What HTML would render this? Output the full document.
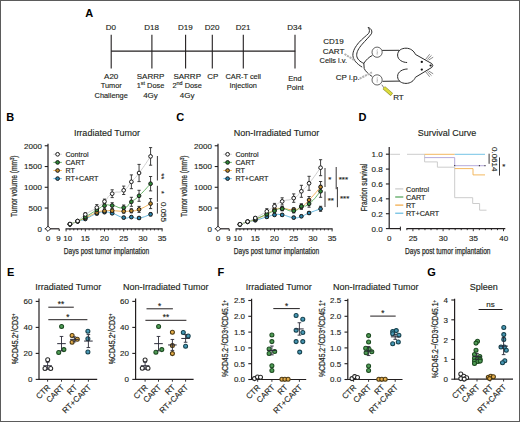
<!DOCTYPE html>
<html><head><meta charset="utf-8"><style>
html,body{margin:0;padding:0;background:#fff;}
#c{position:relative;width:520px;height:422px;overflow:hidden;background:#fff;}
svg{position:absolute;left:0;top:0;}
svg text{font-family:"Liberation Sans", sans-serif;stroke:#231f20;stroke-width:0.14px;}
svg text.c{stroke:#333;stroke-width:0.25px;}
svg text[font-weight=bold]{stroke:none;}
</style></head><body><div id="c">
<svg width="520" height="422" viewBox="0 0 520 422">
<rect x="0.5" y="0.5" width="519" height="421" fill="#fff" stroke="#5b5b5b" stroke-width="1"/>
<text x="85.30" y="16.50" font-size="11" text-anchor="start" font-weight="bold" fill="#000" >A</text>
<line x1="111.20" y1="51.10" x2="295.30" y2="51.10" stroke="#231f20" stroke-width="1.1" />
<line x1="111.20" y1="34.80" x2="111.20" y2="68.60" stroke="#231f20" stroke-width="1.1" />
<text x="110.90" y="29.60" font-size="8.0" text-anchor="middle" font-weight="normal" fill="#231f20" >D0</text>
<line x1="151.90" y1="34.80" x2="151.90" y2="68.60" stroke="#231f20" stroke-width="1.1" />
<text x="151.60" y="29.60" font-size="8.0" text-anchor="middle" font-weight="normal" fill="#231f20" >D18</text>
<line x1="185.60" y1="34.80" x2="185.60" y2="68.60" stroke="#231f20" stroke-width="1.1" />
<text x="185.30" y="29.60" font-size="8.0" text-anchor="middle" font-weight="normal" fill="#231f20" >D19</text>
<line x1="212.30" y1="34.80" x2="212.30" y2="68.60" stroke="#231f20" stroke-width="1.1" />
<text x="212.00" y="29.60" font-size="8.0" text-anchor="middle" font-weight="normal" fill="#231f20" >D20</text>
<line x1="243.30" y1="34.80" x2="243.30" y2="68.60" stroke="#231f20" stroke-width="1.1" />
<text x="243.00" y="29.60" font-size="8.0" text-anchor="middle" font-weight="normal" fill="#231f20" >D21</text>
<line x1="295.00" y1="34.80" x2="295.00" y2="68.60" stroke="#231f20" stroke-width="1.1" />
<text x="294.70" y="29.60" font-size="8.0" text-anchor="middle" font-weight="normal" fill="#231f20" >D34</text>
<text x="111.20" y="78.70" font-size="8.0" text-anchor="middle" font-weight="normal" fill="#231f20" >A20</text>
<text x="111.20" y="88.20" font-size="7.4" text-anchor="middle" font-weight="normal" fill="#231f20" >Tumor</text>
<text x="111.20" y="97.70" font-size="7.4" text-anchor="middle" font-weight="normal" fill="#231f20" >Challenge</text>
<text x="150.50" y="78.70" font-size="8.0" text-anchor="middle" font-weight="normal" fill="#231f20" >SARRP</text>
<text x="150.50" y="88.20" font-size="7.4" text-anchor="middle" font-weight="normal" fill="#231f20" >1<tspan font-size="5.4" dy="-2.9">st</tspan><tspan dy="2.9"> Dose</tspan></text>
<text x="150.50" y="97.70" font-size="8.0" text-anchor="middle" font-weight="normal" fill="#231f20" >4Gy</text>
<text x="187.20" y="78.70" font-size="8.0" text-anchor="middle" font-weight="normal" fill="#231f20" >SARRP</text>
<text x="187.20" y="88.20" font-size="7.4" text-anchor="middle" font-weight="normal" fill="#231f20" >2<tspan font-size="5.4" dy="-2.9">nd</tspan><tspan dy="2.9"> Dose</tspan></text>
<text x="187.20" y="97.70" font-size="8.0" text-anchor="middle" font-weight="normal" fill="#231f20" >4Gy</text>
<text x="212.70" y="78.70" font-size="8.0" text-anchor="middle" font-weight="normal" fill="#231f20" >CP</text>
<text x="243.20" y="78.70" font-size="7.4" text-anchor="middle" font-weight="normal" fill="#231f20" >CAR-T cell</text>
<text x="243.20" y="88.20" font-size="7.4" text-anchor="middle" font-weight="normal" fill="#231f20" >Injection</text>
<text x="295.00" y="80.70" font-size="7.5" text-anchor="middle" font-weight="normal" fill="#231f20" >End</text>
<text x="295.20" y="90.20" font-size="7.4" text-anchor="middle" font-weight="normal" fill="#231f20" >Point</text>
<text x="333.40" y="44.30" font-size="8" text-anchor="middle" font-weight="normal" fill="#231f20" >CD19</text>
<text x="333.50" y="53.80" font-size="8" text-anchor="middle" font-weight="normal" fill="#231f20" >CART</text>
<text x="333.30" y="63.30" font-size="7.4" text-anchor="middle" font-weight="normal" fill="#231f20" >Cells i.v.</text>
<text x="347.70" y="79.80" font-size="8" text-anchor="middle" font-weight="normal" fill="#231f20" >CP i.p.</text>
<text x="398.40" y="100.30" font-size="8" text-anchor="middle" font-weight="normal" fill="#231f20" >RT</text>
<path d="M362.2,67.1 C357,64 353.2,60 352.9,55.6 C352.6,51 355.5,46.5 358.9,42.5 C362,39 366.5,35.5 368.5,33.5 C369.8,32 369.8,29 368.1,27.4 M363.8,63.3 C360,61.8 357,59 356.7,55.6 C356.5,52 358.5,48.5 362.2,44.2 C365,41 369.5,36.5 371.4,33.8 C372.5,31.5 371.5,28.5 368.1,27.4" stroke="#2b2b2b" stroke-width="1.0" fill="none"/>
<path d="M363.8,63.3 C366,60 369,57 372.4,55.4 M363.8,63 L364.2,68.5 C365.5,71.5 368.5,74 372.3,76.6 M382.1,50.4 L399.3,50.3 M382.5,81.3 L399.8,81.1" stroke="#2b2b2b" stroke-width="1.0" fill="none"/>
<path d="M407.1,62.5 C403,62.5 397.5,60 397.6,55 C397.7,50.5 401.5,48.2 406,48.2 C410.5,48.2 414,51 415.4,54.4 L431.8,63.6 Q433.8,65.5 431.8,67.4 L415.4,77.3 C414,80.7 410.5,83.4 406,83.4 C401.5,83.4 397.7,81 397.6,76.5 C397.5,71.5 403,69 407.6,69" stroke="#2b2b2b" stroke-width="1.0" fill="none" stroke-linejoin="round"/>
<circle cx="421.80" cy="61.90" r="1.15" fill="#111" stroke="none" stroke-width="0"/>
<circle cx="421.80" cy="69.60" r="1.15" fill="#111" stroke="none" stroke-width="0"/>
<circle cx="430.60" cy="65.50" r="1.1" fill="#111" stroke="none" stroke-width="0"/>
<line x1="425.50" y1="59.50" x2="429.70" y2="54.20" stroke="#2b2b2b" stroke-width="0.55" />
<line x1="425.50" y1="71.50" x2="429.70" y2="76.80" stroke="#2b2b2b" stroke-width="0.55" />
<line x1="427.30" y1="59.50" x2="431.50" y2="55.40" stroke="#2b2b2b" stroke-width="0.55" />
<line x1="427.30" y1="71.50" x2="431.50" y2="75.60" stroke="#2b2b2b" stroke-width="0.55" />
<line x1="428.50" y1="60.10" x2="433.20" y2="57.20" stroke="#2b2b2b" stroke-width="0.55" />
<line x1="428.50" y1="70.90" x2="433.20" y2="73.80" stroke="#2b2b2b" stroke-width="0.55" />
<circle cx="377.10" cy="52.20" r="5.1" fill="#fff" stroke="#3a3a3a" stroke-width="0.8"/>
<path d="M377.6,49.2 C376,50.7 378.5,52.2 377,53.7 M377.2,51.7 L377.2,55.2" stroke="#999" stroke-width="0.5" fill="none"/>
<circle cx="377.10" cy="79.90" r="5.1" fill="#fff" stroke="#3a3a3a" stroke-width="0.8"/>
<path d="M377.6,76.9 C376,78.4 378.5,79.9 377,81.4 M377.2,79.4 L377.2,82.9" stroke="#999" stroke-width="0.5" fill="none"/>
<line x1="344.50" y1="54.00" x2="355.00" y2="60.60" stroke="#b4b4b4" stroke-width="2.0" stroke-dasharray="2.2,0.8"/>
<line x1="359.60" y1="78.60" x2="372.00" y2="72.30" stroke="#b4b4b4" stroke-width="2.0" stroke-dasharray="2.2,0.8"/>
<line x1="381.80" y1="84.70" x2="384.20" y2="88.20" stroke="#2b2b2b" stroke-width="0.6" />
<line x1="383.80" y1="87.60" x2="391.80" y2="94.60" stroke="#8c8c30" stroke-width="3.6" />
<line x1="384.00" y1="87.80" x2="391.50" y2="94.30" stroke="#dcdc3c" stroke-width="2.6" />
<text x="6.20" y="121.30" font-size="11" text-anchor="start" font-weight="bold" fill="#000" >B</text>
<text x="106.90" y="135.80" font-size="9" text-anchor="middle" font-weight="normal" fill="#231f20" >Irradiated Tumor</text>
<line x1="48.00" y1="143.80" x2="48.00" y2="229.30" stroke="#231f20" stroke-width="1.2" />
<line x1="44.70" y1="228.80" x2="48.00" y2="228.80" stroke="#231f20" stroke-width="1.1" />
<text x="41.90" y="231.70" font-size="8" text-anchor="end" font-weight="normal" fill="#231f20" >0</text>
<line x1="44.70" y1="208.04" x2="48.00" y2="208.04" stroke="#231f20" stroke-width="1.1" />
<text x="41.90" y="210.94" font-size="8" text-anchor="end" font-weight="normal" fill="#231f20" >500</text>
<line x1="44.70" y1="187.28" x2="48.00" y2="187.28" stroke="#231f20" stroke-width="1.1" />
<text x="41.90" y="190.18" font-size="8" text-anchor="end" font-weight="normal" fill="#231f20" >1000</text>
<line x1="44.70" y1="166.52" x2="48.00" y2="166.52" stroke="#231f20" stroke-width="1.1" />
<text x="41.90" y="169.42" font-size="8" text-anchor="end" font-weight="normal" fill="#231f20" >1500</text>
<line x1="44.70" y1="145.76" x2="48.00" y2="145.76" stroke="#231f20" stroke-width="1.1" />
<text x="41.90" y="148.66" font-size="8" text-anchor="end" font-weight="normal" fill="#231f20" >2000</text>
<line x1="48.00" y1="228.80" x2="59.20" y2="228.80" stroke="#231f20" stroke-width="1.2" />
<line x1="59.20" y1="228.80" x2="59.20" y2="231.00" stroke="#231f20" stroke-width="1" />
<line x1="65.60" y1="228.80" x2="162.60" y2="228.80" stroke="#231f20" stroke-width="1.2" />
<line x1="66.10" y1="228.80" x2="66.10" y2="231.40" stroke="#231f20" stroke-width="0.9" />
<line x1="69.94" y1="228.80" x2="69.94" y2="230.40" stroke="#231f20" stroke-width="0.9" />
<line x1="73.78" y1="228.80" x2="73.78" y2="230.40" stroke="#231f20" stroke-width="0.9" />
<line x1="77.62" y1="228.80" x2="77.62" y2="230.40" stroke="#231f20" stroke-width="0.9" />
<line x1="81.46" y1="228.80" x2="81.46" y2="230.40" stroke="#231f20" stroke-width="0.9" />
<line x1="85.30" y1="228.80" x2="85.30" y2="231.40" stroke="#231f20" stroke-width="0.9" />
<line x1="89.14" y1="228.80" x2="89.14" y2="230.40" stroke="#231f20" stroke-width="0.9" />
<line x1="92.98" y1="228.80" x2="92.98" y2="230.40" stroke="#231f20" stroke-width="0.9" />
<line x1="96.82" y1="228.80" x2="96.82" y2="230.40" stroke="#231f20" stroke-width="0.9" />
<line x1="100.66" y1="228.80" x2="100.66" y2="230.40" stroke="#231f20" stroke-width="0.9" />
<line x1="104.50" y1="228.80" x2="104.50" y2="231.40" stroke="#231f20" stroke-width="0.9" />
<line x1="108.34" y1="228.80" x2="108.34" y2="230.40" stroke="#231f20" stroke-width="0.9" />
<line x1="112.18" y1="228.80" x2="112.18" y2="230.40" stroke="#231f20" stroke-width="0.9" />
<line x1="116.02" y1="228.80" x2="116.02" y2="230.40" stroke="#231f20" stroke-width="0.9" />
<line x1="119.86" y1="228.80" x2="119.86" y2="230.40" stroke="#231f20" stroke-width="0.9" />
<line x1="123.70" y1="228.80" x2="123.70" y2="231.40" stroke="#231f20" stroke-width="0.9" />
<line x1="127.54" y1="228.80" x2="127.54" y2="230.40" stroke="#231f20" stroke-width="0.9" />
<line x1="131.38" y1="228.80" x2="131.38" y2="230.40" stroke="#231f20" stroke-width="0.9" />
<line x1="135.22" y1="228.80" x2="135.22" y2="230.40" stroke="#231f20" stroke-width="0.9" />
<line x1="139.06" y1="228.80" x2="139.06" y2="230.40" stroke="#231f20" stroke-width="0.9" />
<line x1="142.90" y1="228.80" x2="142.90" y2="231.40" stroke="#231f20" stroke-width="0.9" />
<line x1="146.74" y1="228.80" x2="146.74" y2="230.40" stroke="#231f20" stroke-width="0.9" />
<line x1="150.58" y1="228.80" x2="150.58" y2="230.40" stroke="#231f20" stroke-width="0.9" />
<line x1="154.42" y1="228.80" x2="154.42" y2="230.40" stroke="#231f20" stroke-width="0.9" />
<line x1="158.26" y1="228.80" x2="158.26" y2="230.40" stroke="#231f20" stroke-width="0.9" />
<line x1="162.10" y1="228.80" x2="162.10" y2="231.40" stroke="#231f20" stroke-width="0.9" />
<text x="48.00" y="241.30" font-size="8" text-anchor="middle" font-weight="normal" fill="#231f20" >0</text>
<text x="58.60" y="241.30" font-size="8" text-anchor="middle" font-weight="normal" fill="#231f20" >9</text>
<text x="67.70" y="241.30" font-size="8" text-anchor="middle" font-weight="normal" fill="#231f20" >10</text>
<text x="85.30" y="241.30" font-size="8" text-anchor="middle" font-weight="normal" fill="#231f20" >15</text>
<text x="104.50" y="241.30" font-size="8" text-anchor="middle" font-weight="normal" fill="#231f20" >20</text>
<text x="123.70" y="241.30" font-size="8" text-anchor="middle" font-weight="normal" fill="#231f20" >25</text>
<text x="142.90" y="241.30" font-size="8" text-anchor="middle" font-weight="normal" fill="#231f20" >30</text>
<text x="162.10" y="241.30" font-size="8" text-anchor="middle" font-weight="normal" fill="#231f20" >35</text>
<text x="63.80" y="254.2" font-size="8.6" font-weight="normal" class="c" fill="#231f20" textLength="85.4" lengthAdjust="spacingAndGlyphs">Days post tumor implantation</text>
<text x="0" y="0" font-size="8.6" font-weight="normal" class="c" text-anchor="middle" fill="#231f20" textLength="61.5" lengthAdjust="spacingAndGlyphs" transform="translate(17.40,186.30) rotate(-90)">Tumor volume (mm<tspan font-size="5.5" dy="-3">3</tspan><tspan dy="3">)</tspan></text>
<path d="M48.0,226.20000000000002 L50.6,228.8 L48.0,231.4 L45.4,228.8 Z" fill="#fff" stroke="#231f20" stroke-width="1.0"/>
<path d="M69.94,224.40 C72.50,223.40 72.50,223.20 77.62,221.40 C82.74,219.60 78.90,221.63 85.30,219.00 C91.70,216.37 90.42,215.77 96.82,213.50 C103.22,211.23 99.38,212.27 104.50,212.20 C109.62,212.13 105.78,211.50 112.18,213.30 C118.58,215.10 117.30,216.33 123.70,217.60 C130.10,218.87 126.26,216.97 131.38,217.10 C136.50,217.23 132.66,218.93 139.06,218.00 C145.46,217.07 146.74,215.53 150.58,214.30" stroke="#55b0dc" stroke-width="0.9" fill="none"/>
<path d="M69.94,224.30 C72.50,223.30 72.50,223.40 77.62,221.30 C82.74,219.20 78.90,220.90 85.30,218.00 C91.70,215.10 90.42,214.93 96.82,212.60 C103.22,210.27 99.38,211.63 104.50,211.00 C109.62,210.37 105.78,210.60 112.18,210.70 C118.58,210.80 117.30,211.27 123.70,211.30 C130.10,211.33 126.26,211.43 131.38,210.80 C136.50,210.17 132.66,211.80 139.06,209.40 C145.46,207.00 146.74,205.53 150.58,203.60" stroke="#f4ac4a" stroke-width="0.9" fill="none"/>
<path d="M69.94,224.20 C72.50,223.20 72.50,223.60 77.62,221.20 C82.74,218.80 78.90,220.73 85.30,217.00 C91.70,213.27 90.42,213.77 96.82,210.00 C103.22,206.23 99.38,207.20 104.50,205.70 C109.62,204.20 105.78,204.87 112.18,205.50 C118.58,206.13 117.30,208.83 123.70,207.60 C130.10,206.37 126.26,205.73 131.38,201.80 C136.50,197.87 132.66,201.83 139.06,195.80 C145.46,189.77 146.74,187.73 150.58,183.70" stroke="#55aa55" stroke-width="0.9" fill="none"/>
<path d="M69.94,224.00 C72.50,223.00 72.50,224.17 77.62,221.00 C82.74,217.83 78.90,218.97 85.30,214.50 C91.70,210.03 90.42,211.93 96.82,207.60 C103.22,203.27 99.38,206.13 104.50,201.50 C109.62,196.87 105.78,197.43 112.18,193.70 C118.58,189.97 117.30,194.27 123.70,190.30 C130.10,186.33 126.26,187.57 131.38,181.80 C136.50,176.03 132.66,181.47 139.06,173.00 C145.46,164.53 146.74,161.93 150.58,156.40" stroke="#c8c8c8" stroke-width="0.9" fill="none"/>
<line x1="85.30" y1="218.00" x2="85.30" y2="220.00" stroke="#2a2a2a" stroke-width="0.9" />
<line x1="83.70" y1="218.00" x2="86.90" y2="218.00" stroke="#2a2a2a" stroke-width="0.9" />
<line x1="83.70" y1="220.00" x2="86.90" y2="220.00" stroke="#2a2a2a" stroke-width="0.9" />
<line x1="96.82" y1="212.10" x2="96.82" y2="214.90" stroke="#2a2a2a" stroke-width="0.9" />
<line x1="95.22" y1="212.10" x2="98.42" y2="212.10" stroke="#2a2a2a" stroke-width="0.9" />
<line x1="95.22" y1="214.90" x2="98.42" y2="214.90" stroke="#2a2a2a" stroke-width="0.9" />
<line x1="104.50" y1="211.00" x2="104.50" y2="213.40" stroke="#2a2a2a" stroke-width="0.9" />
<line x1="102.90" y1="211.00" x2="106.10" y2="211.00" stroke="#2a2a2a" stroke-width="0.9" />
<line x1="102.90" y1="213.40" x2="106.10" y2="213.40" stroke="#2a2a2a" stroke-width="0.9" />
<line x1="112.18" y1="212.10" x2="112.18" y2="214.50" stroke="#2a2a2a" stroke-width="0.9" />
<line x1="110.58" y1="212.10" x2="113.78" y2="212.10" stroke="#2a2a2a" stroke-width="0.9" />
<line x1="110.58" y1="214.50" x2="113.78" y2="214.50" stroke="#2a2a2a" stroke-width="0.9" />
<line x1="123.70" y1="216.40" x2="123.70" y2="218.80" stroke="#2a2a2a" stroke-width="0.9" />
<line x1="122.10" y1="216.40" x2="125.30" y2="216.40" stroke="#2a2a2a" stroke-width="0.9" />
<line x1="122.10" y1="218.80" x2="125.30" y2="218.80" stroke="#2a2a2a" stroke-width="0.9" />
<line x1="131.38" y1="216.10" x2="131.38" y2="218.10" stroke="#2a2a2a" stroke-width="0.9" />
<line x1="129.78" y1="216.10" x2="132.98" y2="216.10" stroke="#2a2a2a" stroke-width="0.9" />
<line x1="129.78" y1="218.10" x2="132.98" y2="218.10" stroke="#2a2a2a" stroke-width="0.9" />
<line x1="139.06" y1="216.80" x2="139.06" y2="219.20" stroke="#2a2a2a" stroke-width="0.9" />
<line x1="137.46" y1="216.80" x2="140.66" y2="216.80" stroke="#2a2a2a" stroke-width="0.9" />
<line x1="137.46" y1="219.20" x2="140.66" y2="219.20" stroke="#2a2a2a" stroke-width="0.9" />
<line x1="150.58" y1="212.70" x2="150.58" y2="215.90" stroke="#2a2a2a" stroke-width="0.9" />
<line x1="148.98" y1="212.70" x2="152.18" y2="212.70" stroke="#2a2a2a" stroke-width="0.9" />
<line x1="148.98" y1="215.90" x2="152.18" y2="215.90" stroke="#2a2a2a" stroke-width="0.9" />
<line x1="85.30" y1="217.00" x2="85.30" y2="219.00" stroke="#2a2a2a" stroke-width="0.9" />
<line x1="83.70" y1="217.00" x2="86.90" y2="217.00" stroke="#2a2a2a" stroke-width="0.9" />
<line x1="83.70" y1="219.00" x2="86.90" y2="219.00" stroke="#2a2a2a" stroke-width="0.9" />
<line x1="96.82" y1="211.10" x2="96.82" y2="214.10" stroke="#2a2a2a" stroke-width="0.9" />
<line x1="95.22" y1="211.10" x2="98.42" y2="211.10" stroke="#2a2a2a" stroke-width="0.9" />
<line x1="95.22" y1="214.10" x2="98.42" y2="214.10" stroke="#2a2a2a" stroke-width="0.9" />
<line x1="104.50" y1="209.80" x2="104.50" y2="212.20" stroke="#2a2a2a" stroke-width="0.9" />
<line x1="102.90" y1="209.80" x2="106.10" y2="209.80" stroke="#2a2a2a" stroke-width="0.9" />
<line x1="102.90" y1="212.20" x2="106.10" y2="212.20" stroke="#2a2a2a" stroke-width="0.9" />
<line x1="112.18" y1="209.20" x2="112.18" y2="212.20" stroke="#2a2a2a" stroke-width="0.9" />
<line x1="110.58" y1="209.20" x2="113.78" y2="209.20" stroke="#2a2a2a" stroke-width="0.9" />
<line x1="110.58" y1="212.20" x2="113.78" y2="212.20" stroke="#2a2a2a" stroke-width="0.9" />
<line x1="123.70" y1="209.50" x2="123.70" y2="213.10" stroke="#2a2a2a" stroke-width="0.9" />
<line x1="122.10" y1="209.50" x2="125.30" y2="209.50" stroke="#2a2a2a" stroke-width="0.9" />
<line x1="122.10" y1="213.10" x2="125.30" y2="213.10" stroke="#2a2a2a" stroke-width="0.9" />
<line x1="131.38" y1="208.80" x2="131.38" y2="212.80" stroke="#2a2a2a" stroke-width="0.9" />
<line x1="129.78" y1="208.80" x2="132.98" y2="208.80" stroke="#2a2a2a" stroke-width="0.9" />
<line x1="129.78" y1="212.80" x2="132.98" y2="212.80" stroke="#2a2a2a" stroke-width="0.9" />
<line x1="139.06" y1="206.40" x2="139.06" y2="212.40" stroke="#2a2a2a" stroke-width="0.9" />
<line x1="137.46" y1="206.40" x2="140.66" y2="206.40" stroke="#2a2a2a" stroke-width="0.9" />
<line x1="137.46" y1="212.40" x2="140.66" y2="212.40" stroke="#2a2a2a" stroke-width="0.9" />
<line x1="150.58" y1="198.60" x2="150.58" y2="208.60" stroke="#2a2a2a" stroke-width="0.9" />
<line x1="148.98" y1="198.60" x2="152.18" y2="198.60" stroke="#2a2a2a" stroke-width="0.9" />
<line x1="148.98" y1="208.60" x2="152.18" y2="208.60" stroke="#2a2a2a" stroke-width="0.9" />
<line x1="85.30" y1="215.60" x2="85.30" y2="218.40" stroke="#2a2a2a" stroke-width="0.9" />
<line x1="83.70" y1="215.60" x2="86.90" y2="215.60" stroke="#2a2a2a" stroke-width="0.9" />
<line x1="83.70" y1="218.40" x2="86.90" y2="218.40" stroke="#2a2a2a" stroke-width="0.9" />
<line x1="96.82" y1="207.60" x2="96.82" y2="212.40" stroke="#2a2a2a" stroke-width="0.9" />
<line x1="95.22" y1="207.60" x2="98.42" y2="207.60" stroke="#2a2a2a" stroke-width="0.9" />
<line x1="95.22" y1="212.40" x2="98.42" y2="212.40" stroke="#2a2a2a" stroke-width="0.9" />
<line x1="104.50" y1="203.10" x2="104.50" y2="208.30" stroke="#2a2a2a" stroke-width="0.9" />
<line x1="102.90" y1="203.10" x2="106.10" y2="203.10" stroke="#2a2a2a" stroke-width="0.9" />
<line x1="102.90" y1="208.30" x2="106.10" y2="208.30" stroke="#2a2a2a" stroke-width="0.9" />
<line x1="112.18" y1="202.70" x2="112.18" y2="208.30" stroke="#2a2a2a" stroke-width="0.9" />
<line x1="110.58" y1="202.70" x2="113.78" y2="202.70" stroke="#2a2a2a" stroke-width="0.9" />
<line x1="110.58" y1="208.30" x2="113.78" y2="208.30" stroke="#2a2a2a" stroke-width="0.9" />
<line x1="123.70" y1="205.00" x2="123.70" y2="210.20" stroke="#2a2a2a" stroke-width="0.9" />
<line x1="122.10" y1="205.00" x2="125.30" y2="205.00" stroke="#2a2a2a" stroke-width="0.9" />
<line x1="122.10" y1="210.20" x2="125.30" y2="210.20" stroke="#2a2a2a" stroke-width="0.9" />
<line x1="131.38" y1="197.30" x2="131.38" y2="206.30" stroke="#2a2a2a" stroke-width="0.9" />
<line x1="129.78" y1="197.30" x2="132.98" y2="197.30" stroke="#2a2a2a" stroke-width="0.9" />
<line x1="129.78" y1="206.30" x2="132.98" y2="206.30" stroke="#2a2a2a" stroke-width="0.9" />
<line x1="139.06" y1="190.30" x2="139.06" y2="201.30" stroke="#2a2a2a" stroke-width="0.9" />
<line x1="137.46" y1="190.30" x2="140.66" y2="190.30" stroke="#2a2a2a" stroke-width="0.9" />
<line x1="137.46" y1="201.30" x2="140.66" y2="201.30" stroke="#2a2a2a" stroke-width="0.9" />
<line x1="150.58" y1="176.50" x2="150.58" y2="190.90" stroke="#2a2a2a" stroke-width="0.9" />
<line x1="148.98" y1="176.50" x2="152.18" y2="176.50" stroke="#2a2a2a" stroke-width="0.9" />
<line x1="148.98" y1="190.90" x2="152.18" y2="190.90" stroke="#2a2a2a" stroke-width="0.9" />
<line x1="85.30" y1="212.90" x2="85.30" y2="216.10" stroke="#2a2a2a" stroke-width="0.9" />
<line x1="83.70" y1="212.90" x2="86.90" y2="212.90" stroke="#2a2a2a" stroke-width="0.9" />
<line x1="83.70" y1="216.10" x2="86.90" y2="216.10" stroke="#2a2a2a" stroke-width="0.9" />
<line x1="96.82" y1="204.60" x2="96.82" y2="210.60" stroke="#2a2a2a" stroke-width="0.9" />
<line x1="95.22" y1="204.60" x2="98.42" y2="204.60" stroke="#2a2a2a" stroke-width="0.9" />
<line x1="95.22" y1="210.60" x2="98.42" y2="210.60" stroke="#2a2a2a" stroke-width="0.9" />
<line x1="104.50" y1="199.10" x2="104.50" y2="203.90" stroke="#2a2a2a" stroke-width="0.9" />
<line x1="102.90" y1="199.10" x2="106.10" y2="199.10" stroke="#2a2a2a" stroke-width="0.9" />
<line x1="102.90" y1="203.90" x2="106.10" y2="203.90" stroke="#2a2a2a" stroke-width="0.9" />
<line x1="112.18" y1="189.80" x2="112.18" y2="197.60" stroke="#2a2a2a" stroke-width="0.9" />
<line x1="110.58" y1="189.80" x2="113.78" y2="189.80" stroke="#2a2a2a" stroke-width="0.9" />
<line x1="110.58" y1="197.60" x2="113.78" y2="197.60" stroke="#2a2a2a" stroke-width="0.9" />
<line x1="123.70" y1="186.10" x2="123.70" y2="194.50" stroke="#2a2a2a" stroke-width="0.9" />
<line x1="122.10" y1="186.10" x2="125.30" y2="186.10" stroke="#2a2a2a" stroke-width="0.9" />
<line x1="122.10" y1="194.50" x2="125.30" y2="194.50" stroke="#2a2a2a" stroke-width="0.9" />
<line x1="131.38" y1="174.90" x2="131.38" y2="188.70" stroke="#2a2a2a" stroke-width="0.9" />
<line x1="129.78" y1="174.90" x2="132.98" y2="174.90" stroke="#2a2a2a" stroke-width="0.9" />
<line x1="129.78" y1="188.70" x2="132.98" y2="188.70" stroke="#2a2a2a" stroke-width="0.9" />
<line x1="139.06" y1="164.40" x2="139.06" y2="181.60" stroke="#2a2a2a" stroke-width="0.9" />
<line x1="137.46" y1="164.40" x2="140.66" y2="164.40" stroke="#2a2a2a" stroke-width="0.9" />
<line x1="137.46" y1="181.60" x2="140.66" y2="181.60" stroke="#2a2a2a" stroke-width="0.9" />
<line x1="150.58" y1="147.60" x2="150.58" y2="165.20" stroke="#2a2a2a" stroke-width="0.9" />
<line x1="148.98" y1="147.60" x2="152.18" y2="147.60" stroke="#2a2a2a" stroke-width="0.9" />
<line x1="148.98" y1="165.20" x2="152.18" y2="165.20" stroke="#2a2a2a" stroke-width="0.9" />
<circle cx="69.94" cy="224.40" r="1.85" fill="#2b84ad" stroke="#1a1a1a" stroke-width="1.0"/>
<circle cx="77.62" cy="221.40" r="1.85" fill="#2b84ad" stroke="#1a1a1a" stroke-width="1.0"/>
<circle cx="85.30" cy="219.00" r="1.85" fill="#2b84ad" stroke="#1a1a1a" stroke-width="1.0"/>
<circle cx="96.82" cy="213.50" r="1.85" fill="#2b84ad" stroke="#1a1a1a" stroke-width="1.0"/>
<circle cx="104.50" cy="212.20" r="1.85" fill="#2b84ad" stroke="#1a1a1a" stroke-width="1.0"/>
<circle cx="112.18" cy="213.30" r="1.85" fill="#2b84ad" stroke="#1a1a1a" stroke-width="1.0"/>
<circle cx="123.70" cy="217.60" r="1.85" fill="#2b84ad" stroke="#1a1a1a" stroke-width="1.0"/>
<circle cx="131.38" cy="217.10" r="1.85" fill="#2b84ad" stroke="#1a1a1a" stroke-width="1.0"/>
<circle cx="139.06" cy="218.00" r="1.85" fill="#2b84ad" stroke="#1a1a1a" stroke-width="1.0"/>
<circle cx="150.58" cy="214.30" r="1.85" fill="#2b84ad" stroke="#1a1a1a" stroke-width="1.0"/>
<circle cx="69.94" cy="224.30" r="1.85" fill="#c08a2c" stroke="#1a1a1a" stroke-width="1.0"/>
<circle cx="77.62" cy="221.30" r="1.85" fill="#c08a2c" stroke="#1a1a1a" stroke-width="1.0"/>
<circle cx="85.30" cy="218.00" r="1.85" fill="#c08a2c" stroke="#1a1a1a" stroke-width="1.0"/>
<circle cx="96.82" cy="212.60" r="1.85" fill="#c08a2c" stroke="#1a1a1a" stroke-width="1.0"/>
<circle cx="104.50" cy="211.00" r="1.85" fill="#c08a2c" stroke="#1a1a1a" stroke-width="1.0"/>
<circle cx="112.18" cy="210.70" r="1.85" fill="#c08a2c" stroke="#1a1a1a" stroke-width="1.0"/>
<circle cx="123.70" cy="211.30" r="1.85" fill="#c08a2c" stroke="#1a1a1a" stroke-width="1.0"/>
<circle cx="131.38" cy="210.80" r="1.85" fill="#c08a2c" stroke="#1a1a1a" stroke-width="1.0"/>
<circle cx="139.06" cy="209.40" r="1.85" fill="#c08a2c" stroke="#1a1a1a" stroke-width="1.0"/>
<circle cx="150.58" cy="203.60" r="1.85" fill="#c08a2c" stroke="#1a1a1a" stroke-width="1.0"/>
<circle cx="69.94" cy="224.20" r="1.85" fill="#2f8a38" stroke="#1a1a1a" stroke-width="1.0"/>
<circle cx="77.62" cy="221.20" r="1.85" fill="#2f8a38" stroke="#1a1a1a" stroke-width="1.0"/>
<circle cx="85.30" cy="217.00" r="1.85" fill="#2f8a38" stroke="#1a1a1a" stroke-width="1.0"/>
<circle cx="96.82" cy="210.00" r="1.85" fill="#2f8a38" stroke="#1a1a1a" stroke-width="1.0"/>
<circle cx="104.50" cy="205.70" r="1.85" fill="#2f8a38" stroke="#1a1a1a" stroke-width="1.0"/>
<circle cx="112.18" cy="205.50" r="1.85" fill="#2f8a38" stroke="#1a1a1a" stroke-width="1.0"/>
<circle cx="123.70" cy="207.60" r="1.85" fill="#2f8a38" stroke="#1a1a1a" stroke-width="1.0"/>
<circle cx="131.38" cy="201.80" r="1.85" fill="#2f8a38" stroke="#1a1a1a" stroke-width="1.0"/>
<circle cx="139.06" cy="195.80" r="1.85" fill="#2f8a38" stroke="#1a1a1a" stroke-width="1.0"/>
<circle cx="150.58" cy="183.70" r="1.85" fill="#2f8a38" stroke="#1a1a1a" stroke-width="1.0"/>
<circle cx="69.94" cy="224.00" r="1.85" fill="#fff" stroke="#1a1a1a" stroke-width="1.0"/>
<circle cx="77.62" cy="221.00" r="1.85" fill="#fff" stroke="#1a1a1a" stroke-width="1.0"/>
<circle cx="85.30" cy="214.50" r="1.85" fill="#fff" stroke="#1a1a1a" stroke-width="1.0"/>
<circle cx="96.82" cy="207.60" r="1.85" fill="#fff" stroke="#1a1a1a" stroke-width="1.0"/>
<circle cx="104.50" cy="201.50" r="1.85" fill="#fff" stroke="#1a1a1a" stroke-width="1.0"/>
<circle cx="112.18" cy="193.70" r="1.85" fill="#fff" stroke="#1a1a1a" stroke-width="1.0"/>
<circle cx="123.70" cy="190.30" r="1.85" fill="#fff" stroke="#1a1a1a" stroke-width="1.0"/>
<circle cx="131.38" cy="181.80" r="1.85" fill="#fff" stroke="#1a1a1a" stroke-width="1.0"/>
<circle cx="139.06" cy="173.00" r="1.85" fill="#fff" stroke="#1a1a1a" stroke-width="1.0"/>
<circle cx="150.58" cy="156.40" r="1.85" fill="#fff" stroke="#1a1a1a" stroke-width="1.0"/>
<line x1="53.40" y1="154.30" x2="61.80" y2="154.30" stroke="#c8c8c8" stroke-width="0.9" />
<circle cx="57.60" cy="154.30" r="1.85" fill="#fff" stroke="#1a1a1a" stroke-width="1.0"/>
<text x="65.40" y="156.90" font-size="7.2" text-anchor="start" font-weight="normal" fill="#231f20" >Control</text>
<line x1="53.40" y1="162.40" x2="61.80" y2="162.40" stroke="#55aa55" stroke-width="0.9" />
<circle cx="57.60" cy="162.40" r="1.85" fill="#2f8a38" stroke="#1a1a1a" stroke-width="1.0"/>
<text x="65.40" y="165.00" font-size="7.2" text-anchor="start" font-weight="normal" fill="#231f20" >CART</text>
<line x1="53.40" y1="170.50" x2="61.80" y2="170.50" stroke="#f4ac4a" stroke-width="0.9" />
<circle cx="57.60" cy="170.50" r="1.85" fill="#c08a2c" stroke="#1a1a1a" stroke-width="1.0"/>
<text x="65.40" y="173.10" font-size="7.2" text-anchor="start" font-weight="normal" fill="#231f20" >RT</text>
<line x1="53.40" y1="178.60" x2="61.80" y2="178.60" stroke="#55b0dc" stroke-width="0.9" />
<circle cx="57.60" cy="178.60" r="1.85" fill="#2b84ad" stroke="#1a1a1a" stroke-width="1.0"/>
<text x="65.40" y="181.20" font-size="7.2" text-anchor="start" font-weight="normal" fill="#231f20" >RT+CART</text>
<line x1="157.40" y1="156.00" x2="157.40" y2="180.50" stroke="#231f20" stroke-width="0.9" />
<line x1="157.40" y1="185.80" x2="157.40" y2="201.80" stroke="#231f20" stroke-width="0.9" />
<line x1="157.40" y1="202.90" x2="157.40" y2="213.60" stroke="#231f20" stroke-width="0.9" />
<text x="0" y="0" font-size="8" font-weight="normal" text-anchor="middle" fill="#231f20"  transform="translate(158.60,176.30) rotate(90)">**</text>
<text x="0" y="0" font-size="8" font-weight="normal" text-anchor="middle" fill="#231f20"  transform="translate(158.60,192.20) rotate(90)">*</text>
<text x="0" y="0" font-size="8" font-weight="normal" text-anchor="middle" fill="#231f20"  transform="translate(160.80,212.00) rotate(90)">0.055</text>
<text x="176.20" y="121.30" font-size="11" text-anchor="start" font-weight="bold" fill="#000" >C</text>
<text x="276.60" y="135.80" font-size="9" text-anchor="middle" font-weight="normal" fill="#231f20" >Non-Irradiated Tumor</text>
<line x1="218.00" y1="143.80" x2="218.00" y2="229.30" stroke="#231f20" stroke-width="1.2" />
<line x1="214.70" y1="228.80" x2="218.00" y2="228.80" stroke="#231f20" stroke-width="1.1" />
<text x="211.90" y="231.70" font-size="8" text-anchor="end" font-weight="normal" fill="#231f20" >0</text>
<line x1="214.70" y1="208.04" x2="218.00" y2="208.04" stroke="#231f20" stroke-width="1.1" />
<text x="211.90" y="210.94" font-size="8" text-anchor="end" font-weight="normal" fill="#231f20" >500</text>
<line x1="214.70" y1="187.28" x2="218.00" y2="187.28" stroke="#231f20" stroke-width="1.1" />
<text x="211.90" y="190.18" font-size="8" text-anchor="end" font-weight="normal" fill="#231f20" >1000</text>
<line x1="214.70" y1="166.52" x2="218.00" y2="166.52" stroke="#231f20" stroke-width="1.1" />
<text x="211.90" y="169.42" font-size="8" text-anchor="end" font-weight="normal" fill="#231f20" >1500</text>
<line x1="214.70" y1="145.76" x2="218.00" y2="145.76" stroke="#231f20" stroke-width="1.1" />
<text x="211.90" y="148.66" font-size="8" text-anchor="end" font-weight="normal" fill="#231f20" >2000</text>
<line x1="218.00" y1="228.80" x2="229.20" y2="228.80" stroke="#231f20" stroke-width="1.2" />
<line x1="229.20" y1="228.80" x2="229.20" y2="231.00" stroke="#231f20" stroke-width="1" />
<line x1="235.60" y1="228.80" x2="332.60" y2="228.80" stroke="#231f20" stroke-width="1.2" />
<line x1="236.10" y1="228.80" x2="236.10" y2="231.40" stroke="#231f20" stroke-width="0.9" />
<line x1="239.94" y1="228.80" x2="239.94" y2="230.40" stroke="#231f20" stroke-width="0.9" />
<line x1="243.78" y1="228.80" x2="243.78" y2="230.40" stroke="#231f20" stroke-width="0.9" />
<line x1="247.62" y1="228.80" x2="247.62" y2="230.40" stroke="#231f20" stroke-width="0.9" />
<line x1="251.46" y1="228.80" x2="251.46" y2="230.40" stroke="#231f20" stroke-width="0.9" />
<line x1="255.30" y1="228.80" x2="255.30" y2="231.40" stroke="#231f20" stroke-width="0.9" />
<line x1="259.14" y1="228.80" x2="259.14" y2="230.40" stroke="#231f20" stroke-width="0.9" />
<line x1="262.98" y1="228.80" x2="262.98" y2="230.40" stroke="#231f20" stroke-width="0.9" />
<line x1="266.82" y1="228.80" x2="266.82" y2="230.40" stroke="#231f20" stroke-width="0.9" />
<line x1="270.66" y1="228.80" x2="270.66" y2="230.40" stroke="#231f20" stroke-width="0.9" />
<line x1="274.50" y1="228.80" x2="274.50" y2="231.40" stroke="#231f20" stroke-width="0.9" />
<line x1="278.34" y1="228.80" x2="278.34" y2="230.40" stroke="#231f20" stroke-width="0.9" />
<line x1="282.18" y1="228.80" x2="282.18" y2="230.40" stroke="#231f20" stroke-width="0.9" />
<line x1="286.02" y1="228.80" x2="286.02" y2="230.40" stroke="#231f20" stroke-width="0.9" />
<line x1="289.86" y1="228.80" x2="289.86" y2="230.40" stroke="#231f20" stroke-width="0.9" />
<line x1="293.70" y1="228.80" x2="293.70" y2="231.40" stroke="#231f20" stroke-width="0.9" />
<line x1="297.54" y1="228.80" x2="297.54" y2="230.40" stroke="#231f20" stroke-width="0.9" />
<line x1="301.38" y1="228.80" x2="301.38" y2="230.40" stroke="#231f20" stroke-width="0.9" />
<line x1="305.22" y1="228.80" x2="305.22" y2="230.40" stroke="#231f20" stroke-width="0.9" />
<line x1="309.06" y1="228.80" x2="309.06" y2="230.40" stroke="#231f20" stroke-width="0.9" />
<line x1="312.90" y1="228.80" x2="312.90" y2="231.40" stroke="#231f20" stroke-width="0.9" />
<line x1="316.74" y1="228.80" x2="316.74" y2="230.40" stroke="#231f20" stroke-width="0.9" />
<line x1="320.58" y1="228.80" x2="320.58" y2="230.40" stroke="#231f20" stroke-width="0.9" />
<line x1="324.42" y1="228.80" x2="324.42" y2="230.40" stroke="#231f20" stroke-width="0.9" />
<line x1="328.26" y1="228.80" x2="328.26" y2="230.40" stroke="#231f20" stroke-width="0.9" />
<line x1="332.10" y1="228.80" x2="332.10" y2="231.40" stroke="#231f20" stroke-width="0.9" />
<text x="218.00" y="241.30" font-size="8" text-anchor="middle" font-weight="normal" fill="#231f20" >0</text>
<text x="228.60" y="241.30" font-size="8" text-anchor="middle" font-weight="normal" fill="#231f20" >9</text>
<text x="237.70" y="241.30" font-size="8" text-anchor="middle" font-weight="normal" fill="#231f20" >10</text>
<text x="255.30" y="241.30" font-size="8" text-anchor="middle" font-weight="normal" fill="#231f20" >15</text>
<text x="274.50" y="241.30" font-size="8" text-anchor="middle" font-weight="normal" fill="#231f20" >20</text>
<text x="293.70" y="241.30" font-size="8" text-anchor="middle" font-weight="normal" fill="#231f20" >25</text>
<text x="312.90" y="241.30" font-size="8" text-anchor="middle" font-weight="normal" fill="#231f20" >30</text>
<text x="332.10" y="241.30" font-size="8" text-anchor="middle" font-weight="normal" fill="#231f20" >35</text>
<text x="233.80" y="254.2" font-size="8.6" font-weight="normal" class="c" fill="#231f20" textLength="85.4" lengthAdjust="spacingAndGlyphs">Days post tumor implantation</text>
<text x="0" y="0" font-size="8.6" font-weight="normal" class="c" text-anchor="middle" fill="#231f20" textLength="61.5" lengthAdjust="spacingAndGlyphs" transform="translate(187.40,186.30) rotate(-90)">Tumor volume (mm<tspan font-size="5.5" dy="-3">3</tspan><tspan dy="3">)</tspan></text>
<path d="M218.0,226.20000000000002 L220.6,228.8 L218.0,231.4 L215.4,228.8 Z" fill="#fff" stroke="#231f20" stroke-width="1.0"/>
<path d="M239.94,224.60 C242.50,223.70 242.50,223.33 247.62,221.90 C252.74,220.47 248.90,221.97 255.30,220.30 C261.70,218.63 260.42,218.70 266.82,216.90 C273.22,215.10 269.38,215.57 274.50,214.90 C279.62,214.23 275.78,214.00 282.18,214.90 C288.58,215.80 287.30,217.13 293.70,217.60 C300.10,218.07 296.26,217.83 301.38,216.30 C306.50,214.77 302.66,215.50 309.06,213.00 C315.46,210.50 316.74,210.20 320.58,208.80" stroke="#55b0dc" stroke-width="0.9" fill="none"/>
<path d="M239.94,224.50 C242.50,223.60 242.50,223.47 247.62,221.80 C252.74,220.13 248.90,222.03 255.30,219.50 C261.70,216.97 260.42,217.53 266.82,214.20 C273.22,210.87 269.38,211.40 274.50,209.50 C279.62,207.60 275.78,208.50 282.18,208.50 C288.58,208.50 287.30,210.07 293.70,209.50 C300.10,208.93 296.26,209.97 301.38,206.80 C306.50,203.63 302.66,206.60 309.06,200.00 C315.46,193.40 316.74,191.33 320.58,187.00" stroke="#f4ac4a" stroke-width="0.9" fill="none"/>
<path d="M239.94,224.40 C242.50,223.50 242.50,223.50 247.62,221.70 C252.74,219.90 248.90,221.50 255.30,219.00 C261.70,216.50 260.42,216.90 266.82,214.20 C273.22,211.50 269.38,212.70 274.50,210.90 C279.62,209.10 275.78,208.80 282.18,208.80 C288.58,208.80 287.30,211.73 293.70,210.90 C300.10,210.07 296.26,208.67 301.38,206.30 C306.50,203.93 302.66,208.80 309.06,203.80 C315.46,198.80 316.74,195.47 320.58,191.30" stroke="#55aa55" stroke-width="0.9" fill="none"/>
<path d="M239.94,224.30 C242.50,223.40 242.50,223.70 247.62,221.60 C252.74,219.50 248.90,221.43 255.30,218.00 C261.70,214.57 260.42,215.23 266.82,211.30 C273.22,207.37 269.38,209.50 274.50,206.20 C279.62,202.90 275.78,204.10 282.18,201.40 C288.58,198.70 287.30,201.47 293.70,198.10 C300.10,194.73 296.26,196.23 301.38,191.30 C306.50,186.37 302.66,191.17 309.06,183.30 C315.46,175.43 316.74,172.90 320.58,167.70" stroke="#c8c8c8" stroke-width="0.9" fill="none"/>
<line x1="255.30" y1="219.30" x2="255.30" y2="221.30" stroke="#2a2a2a" stroke-width="0.9" />
<line x1="253.70" y1="219.30" x2="256.90" y2="219.30" stroke="#2a2a2a" stroke-width="0.9" />
<line x1="253.70" y1="221.30" x2="256.90" y2="221.30" stroke="#2a2a2a" stroke-width="0.9" />
<line x1="266.82" y1="215.70" x2="266.82" y2="218.10" stroke="#2a2a2a" stroke-width="0.9" />
<line x1="265.22" y1="215.70" x2="268.42" y2="215.70" stroke="#2a2a2a" stroke-width="0.9" />
<line x1="265.22" y1="218.10" x2="268.42" y2="218.10" stroke="#2a2a2a" stroke-width="0.9" />
<line x1="274.50" y1="213.70" x2="274.50" y2="216.10" stroke="#2a2a2a" stroke-width="0.9" />
<line x1="272.90" y1="213.70" x2="276.10" y2="213.70" stroke="#2a2a2a" stroke-width="0.9" />
<line x1="272.90" y1="216.10" x2="276.10" y2="216.10" stroke="#2a2a2a" stroke-width="0.9" />
<line x1="282.18" y1="213.70" x2="282.18" y2="216.10" stroke="#2a2a2a" stroke-width="0.9" />
<line x1="280.58" y1="213.70" x2="283.78" y2="213.70" stroke="#2a2a2a" stroke-width="0.9" />
<line x1="280.58" y1="216.10" x2="283.78" y2="216.10" stroke="#2a2a2a" stroke-width="0.9" />
<line x1="293.70" y1="216.40" x2="293.70" y2="218.80" stroke="#2a2a2a" stroke-width="0.9" />
<line x1="292.10" y1="216.40" x2="295.30" y2="216.40" stroke="#2a2a2a" stroke-width="0.9" />
<line x1="292.10" y1="218.80" x2="295.30" y2="218.80" stroke="#2a2a2a" stroke-width="0.9" />
<line x1="301.38" y1="215.10" x2="301.38" y2="217.50" stroke="#2a2a2a" stroke-width="0.9" />
<line x1="299.78" y1="215.10" x2="302.98" y2="215.10" stroke="#2a2a2a" stroke-width="0.9" />
<line x1="299.78" y1="217.50" x2="302.98" y2="217.50" stroke="#2a2a2a" stroke-width="0.9" />
<line x1="309.06" y1="211.50" x2="309.06" y2="214.50" stroke="#2a2a2a" stroke-width="0.9" />
<line x1="307.46" y1="211.50" x2="310.66" y2="211.50" stroke="#2a2a2a" stroke-width="0.9" />
<line x1="307.46" y1="214.50" x2="310.66" y2="214.50" stroke="#2a2a2a" stroke-width="0.9" />
<line x1="320.58" y1="206.30" x2="320.58" y2="211.30" stroke="#2a2a2a" stroke-width="0.9" />
<line x1="318.98" y1="206.30" x2="322.18" y2="206.30" stroke="#2a2a2a" stroke-width="0.9" />
<line x1="318.98" y1="211.30" x2="322.18" y2="211.30" stroke="#2a2a2a" stroke-width="0.9" />
<line x1="255.30" y1="218.50" x2="255.30" y2="220.50" stroke="#2a2a2a" stroke-width="0.9" />
<line x1="253.70" y1="218.50" x2="256.90" y2="218.50" stroke="#2a2a2a" stroke-width="0.9" />
<line x1="253.70" y1="220.50" x2="256.90" y2="220.50" stroke="#2a2a2a" stroke-width="0.9" />
<line x1="266.82" y1="212.60" x2="266.82" y2="215.80" stroke="#2a2a2a" stroke-width="0.9" />
<line x1="265.22" y1="212.60" x2="268.42" y2="212.60" stroke="#2a2a2a" stroke-width="0.9" />
<line x1="265.22" y1="215.80" x2="268.42" y2="215.80" stroke="#2a2a2a" stroke-width="0.9" />
<line x1="274.50" y1="207.90" x2="274.50" y2="211.10" stroke="#2a2a2a" stroke-width="0.9" />
<line x1="272.90" y1="207.90" x2="276.10" y2="207.90" stroke="#2a2a2a" stroke-width="0.9" />
<line x1="272.90" y1="211.10" x2="276.10" y2="211.10" stroke="#2a2a2a" stroke-width="0.9" />
<line x1="282.18" y1="206.90" x2="282.18" y2="210.10" stroke="#2a2a2a" stroke-width="0.9" />
<line x1="280.58" y1="206.90" x2="283.78" y2="206.90" stroke="#2a2a2a" stroke-width="0.9" />
<line x1="280.58" y1="210.10" x2="283.78" y2="210.10" stroke="#2a2a2a" stroke-width="0.9" />
<line x1="293.70" y1="207.90" x2="293.70" y2="211.10" stroke="#2a2a2a" stroke-width="0.9" />
<line x1="292.10" y1="207.90" x2="295.30" y2="207.90" stroke="#2a2a2a" stroke-width="0.9" />
<line x1="292.10" y1="211.10" x2="295.30" y2="211.10" stroke="#2a2a2a" stroke-width="0.9" />
<line x1="301.38" y1="204.30" x2="301.38" y2="209.30" stroke="#2a2a2a" stroke-width="0.9" />
<line x1="299.78" y1="204.30" x2="302.98" y2="204.30" stroke="#2a2a2a" stroke-width="0.9" />
<line x1="299.78" y1="209.30" x2="302.98" y2="209.30" stroke="#2a2a2a" stroke-width="0.9" />
<line x1="309.06" y1="196.50" x2="309.06" y2="203.50" stroke="#2a2a2a" stroke-width="0.9" />
<line x1="307.46" y1="196.50" x2="310.66" y2="196.50" stroke="#2a2a2a" stroke-width="0.9" />
<line x1="307.46" y1="203.50" x2="310.66" y2="203.50" stroke="#2a2a2a" stroke-width="0.9" />
<line x1="320.58" y1="181.50" x2="320.58" y2="192.50" stroke="#2a2a2a" stroke-width="0.9" />
<line x1="318.98" y1="181.50" x2="322.18" y2="181.50" stroke="#2a2a2a" stroke-width="0.9" />
<line x1="318.98" y1="192.50" x2="322.18" y2="192.50" stroke="#2a2a2a" stroke-width="0.9" />
<line x1="255.30" y1="218.00" x2="255.30" y2="220.00" stroke="#2a2a2a" stroke-width="0.9" />
<line x1="253.70" y1="218.00" x2="256.90" y2="218.00" stroke="#2a2a2a" stroke-width="0.9" />
<line x1="253.70" y1="220.00" x2="256.90" y2="220.00" stroke="#2a2a2a" stroke-width="0.9" />
<line x1="266.82" y1="212.60" x2="266.82" y2="215.80" stroke="#2a2a2a" stroke-width="0.9" />
<line x1="265.22" y1="212.60" x2="268.42" y2="212.60" stroke="#2a2a2a" stroke-width="0.9" />
<line x1="265.22" y1="215.80" x2="268.42" y2="215.80" stroke="#2a2a2a" stroke-width="0.9" />
<line x1="274.50" y1="208.90" x2="274.50" y2="212.90" stroke="#2a2a2a" stroke-width="0.9" />
<line x1="272.90" y1="208.90" x2="276.10" y2="208.90" stroke="#2a2a2a" stroke-width="0.9" />
<line x1="272.90" y1="212.90" x2="276.10" y2="212.90" stroke="#2a2a2a" stroke-width="0.9" />
<line x1="282.18" y1="206.80" x2="282.18" y2="210.80" stroke="#2a2a2a" stroke-width="0.9" />
<line x1="280.58" y1="206.80" x2="283.78" y2="206.80" stroke="#2a2a2a" stroke-width="0.9" />
<line x1="280.58" y1="210.80" x2="283.78" y2="210.80" stroke="#2a2a2a" stroke-width="0.9" />
<line x1="293.70" y1="208.90" x2="293.70" y2="212.90" stroke="#2a2a2a" stroke-width="0.9" />
<line x1="292.10" y1="208.90" x2="295.30" y2="208.90" stroke="#2a2a2a" stroke-width="0.9" />
<line x1="292.10" y1="212.90" x2="295.30" y2="212.90" stroke="#2a2a2a" stroke-width="0.9" />
<line x1="301.38" y1="203.80" x2="301.38" y2="208.80" stroke="#2a2a2a" stroke-width="0.9" />
<line x1="299.78" y1="203.80" x2="302.98" y2="203.80" stroke="#2a2a2a" stroke-width="0.9" />
<line x1="299.78" y1="208.80" x2="302.98" y2="208.80" stroke="#2a2a2a" stroke-width="0.9" />
<line x1="309.06" y1="200.40" x2="309.06" y2="207.20" stroke="#2a2a2a" stroke-width="0.9" />
<line x1="307.46" y1="200.40" x2="310.66" y2="200.40" stroke="#2a2a2a" stroke-width="0.9" />
<line x1="307.46" y1="207.20" x2="310.66" y2="207.20" stroke="#2a2a2a" stroke-width="0.9" />
<line x1="320.58" y1="185.30" x2="320.58" y2="197.30" stroke="#2a2a2a" stroke-width="0.9" />
<line x1="318.98" y1="185.30" x2="322.18" y2="185.30" stroke="#2a2a2a" stroke-width="0.9" />
<line x1="318.98" y1="197.30" x2="322.18" y2="197.30" stroke="#2a2a2a" stroke-width="0.9" />
<line x1="255.30" y1="216.60" x2="255.30" y2="219.40" stroke="#2a2a2a" stroke-width="0.9" />
<line x1="253.70" y1="216.60" x2="256.90" y2="216.60" stroke="#2a2a2a" stroke-width="0.9" />
<line x1="253.70" y1="219.40" x2="256.90" y2="219.40" stroke="#2a2a2a" stroke-width="0.9" />
<line x1="266.82" y1="208.70" x2="266.82" y2="213.90" stroke="#2a2a2a" stroke-width="0.9" />
<line x1="265.22" y1="208.70" x2="268.42" y2="208.70" stroke="#2a2a2a" stroke-width="0.9" />
<line x1="265.22" y1="213.90" x2="268.42" y2="213.90" stroke="#2a2a2a" stroke-width="0.9" />
<line x1="274.50" y1="203.40" x2="274.50" y2="209.00" stroke="#2a2a2a" stroke-width="0.9" />
<line x1="272.90" y1="203.40" x2="276.10" y2="203.40" stroke="#2a2a2a" stroke-width="0.9" />
<line x1="272.90" y1="209.00" x2="276.10" y2="209.00" stroke="#2a2a2a" stroke-width="0.9" />
<line x1="282.18" y1="197.80" x2="282.18" y2="205.00" stroke="#2a2a2a" stroke-width="0.9" />
<line x1="280.58" y1="197.80" x2="283.78" y2="197.80" stroke="#2a2a2a" stroke-width="0.9" />
<line x1="280.58" y1="205.00" x2="283.78" y2="205.00" stroke="#2a2a2a" stroke-width="0.9" />
<line x1="293.70" y1="193.90" x2="293.70" y2="202.30" stroke="#2a2a2a" stroke-width="0.9" />
<line x1="292.10" y1="193.90" x2="295.30" y2="193.90" stroke="#2a2a2a" stroke-width="0.9" />
<line x1="292.10" y1="202.30" x2="295.30" y2="202.30" stroke="#2a2a2a" stroke-width="0.9" />
<line x1="301.38" y1="185.30" x2="301.38" y2="197.30" stroke="#2a2a2a" stroke-width="0.9" />
<line x1="299.78" y1="185.30" x2="302.98" y2="185.30" stroke="#2a2a2a" stroke-width="0.9" />
<line x1="299.78" y1="197.30" x2="302.98" y2="197.30" stroke="#2a2a2a" stroke-width="0.9" />
<line x1="309.06" y1="176.30" x2="309.06" y2="190.30" stroke="#2a2a2a" stroke-width="0.9" />
<line x1="307.46" y1="176.30" x2="310.66" y2="176.30" stroke="#2a2a2a" stroke-width="0.9" />
<line x1="307.46" y1="190.30" x2="310.66" y2="190.30" stroke="#2a2a2a" stroke-width="0.9" />
<line x1="320.58" y1="159.70" x2="320.58" y2="175.70" stroke="#2a2a2a" stroke-width="0.9" />
<line x1="318.98" y1="159.70" x2="322.18" y2="159.70" stroke="#2a2a2a" stroke-width="0.9" />
<line x1="318.98" y1="175.70" x2="322.18" y2="175.70" stroke="#2a2a2a" stroke-width="0.9" />
<circle cx="239.94" cy="224.60" r="1.85" fill="#2b84ad" stroke="#1a1a1a" stroke-width="1.0"/>
<circle cx="247.62" cy="221.90" r="1.85" fill="#2b84ad" stroke="#1a1a1a" stroke-width="1.0"/>
<circle cx="255.30" cy="220.30" r="1.85" fill="#2b84ad" stroke="#1a1a1a" stroke-width="1.0"/>
<circle cx="266.82" cy="216.90" r="1.85" fill="#2b84ad" stroke="#1a1a1a" stroke-width="1.0"/>
<circle cx="274.50" cy="214.90" r="1.85" fill="#2b84ad" stroke="#1a1a1a" stroke-width="1.0"/>
<circle cx="282.18" cy="214.90" r="1.85" fill="#2b84ad" stroke="#1a1a1a" stroke-width="1.0"/>
<circle cx="293.70" cy="217.60" r="1.85" fill="#2b84ad" stroke="#1a1a1a" stroke-width="1.0"/>
<circle cx="301.38" cy="216.30" r="1.85" fill="#2b84ad" stroke="#1a1a1a" stroke-width="1.0"/>
<circle cx="309.06" cy="213.00" r="1.85" fill="#2b84ad" stroke="#1a1a1a" stroke-width="1.0"/>
<circle cx="320.58" cy="208.80" r="1.85" fill="#2b84ad" stroke="#1a1a1a" stroke-width="1.0"/>
<circle cx="239.94" cy="224.50" r="1.85" fill="#c08a2c" stroke="#1a1a1a" stroke-width="1.0"/>
<circle cx="247.62" cy="221.80" r="1.85" fill="#c08a2c" stroke="#1a1a1a" stroke-width="1.0"/>
<circle cx="255.30" cy="219.50" r="1.85" fill="#c08a2c" stroke="#1a1a1a" stroke-width="1.0"/>
<circle cx="266.82" cy="214.20" r="1.85" fill="#c08a2c" stroke="#1a1a1a" stroke-width="1.0"/>
<circle cx="274.50" cy="209.50" r="1.85" fill="#c08a2c" stroke="#1a1a1a" stroke-width="1.0"/>
<circle cx="282.18" cy="208.50" r="1.85" fill="#c08a2c" stroke="#1a1a1a" stroke-width="1.0"/>
<circle cx="293.70" cy="209.50" r="1.85" fill="#c08a2c" stroke="#1a1a1a" stroke-width="1.0"/>
<circle cx="301.38" cy="206.80" r="1.85" fill="#c08a2c" stroke="#1a1a1a" stroke-width="1.0"/>
<circle cx="309.06" cy="200.00" r="1.85" fill="#c08a2c" stroke="#1a1a1a" stroke-width="1.0"/>
<circle cx="320.58" cy="187.00" r="1.85" fill="#c08a2c" stroke="#1a1a1a" stroke-width="1.0"/>
<circle cx="239.94" cy="224.40" r="1.85" fill="#2f8a38" stroke="#1a1a1a" stroke-width="1.0"/>
<circle cx="247.62" cy="221.70" r="1.85" fill="#2f8a38" stroke="#1a1a1a" stroke-width="1.0"/>
<circle cx="255.30" cy="219.00" r="1.85" fill="#2f8a38" stroke="#1a1a1a" stroke-width="1.0"/>
<circle cx="266.82" cy="214.20" r="1.85" fill="#2f8a38" stroke="#1a1a1a" stroke-width="1.0"/>
<circle cx="274.50" cy="210.90" r="1.85" fill="#2f8a38" stroke="#1a1a1a" stroke-width="1.0"/>
<circle cx="282.18" cy="208.80" r="1.85" fill="#2f8a38" stroke="#1a1a1a" stroke-width="1.0"/>
<circle cx="293.70" cy="210.90" r="1.85" fill="#2f8a38" stroke="#1a1a1a" stroke-width="1.0"/>
<circle cx="301.38" cy="206.30" r="1.85" fill="#2f8a38" stroke="#1a1a1a" stroke-width="1.0"/>
<circle cx="309.06" cy="203.80" r="1.85" fill="#2f8a38" stroke="#1a1a1a" stroke-width="1.0"/>
<circle cx="320.58" cy="191.30" r="1.85" fill="#2f8a38" stroke="#1a1a1a" stroke-width="1.0"/>
<circle cx="239.94" cy="224.30" r="1.85" fill="#fff" stroke="#1a1a1a" stroke-width="1.0"/>
<circle cx="247.62" cy="221.60" r="1.85" fill="#fff" stroke="#1a1a1a" stroke-width="1.0"/>
<circle cx="255.30" cy="218.00" r="1.85" fill="#fff" stroke="#1a1a1a" stroke-width="1.0"/>
<circle cx="266.82" cy="211.30" r="1.85" fill="#fff" stroke="#1a1a1a" stroke-width="1.0"/>
<circle cx="274.50" cy="206.20" r="1.85" fill="#fff" stroke="#1a1a1a" stroke-width="1.0"/>
<circle cx="282.18" cy="201.40" r="1.85" fill="#fff" stroke="#1a1a1a" stroke-width="1.0"/>
<circle cx="293.70" cy="198.10" r="1.85" fill="#fff" stroke="#1a1a1a" stroke-width="1.0"/>
<circle cx="301.38" cy="191.30" r="1.85" fill="#fff" stroke="#1a1a1a" stroke-width="1.0"/>
<circle cx="309.06" cy="183.30" r="1.85" fill="#fff" stroke="#1a1a1a" stroke-width="1.0"/>
<circle cx="320.58" cy="167.70" r="1.85" fill="#fff" stroke="#1a1a1a" stroke-width="1.0"/>
<line x1="223.40" y1="154.30" x2="231.80" y2="154.30" stroke="#c8c8c8" stroke-width="0.9" />
<circle cx="227.60" cy="154.30" r="1.85" fill="#fff" stroke="#1a1a1a" stroke-width="1.0"/>
<text x="235.40" y="156.90" font-size="7.2" text-anchor="start" font-weight="normal" fill="#231f20" >Control</text>
<line x1="223.40" y1="162.40" x2="231.80" y2="162.40" stroke="#55aa55" stroke-width="0.9" />
<circle cx="227.60" cy="162.40" r="1.85" fill="#2f8a38" stroke="#1a1a1a" stroke-width="1.0"/>
<text x="235.40" y="165.00" font-size="7.2" text-anchor="start" font-weight="normal" fill="#231f20" >CART</text>
<line x1="223.40" y1="170.50" x2="231.80" y2="170.50" stroke="#f4ac4a" stroke-width="0.9" />
<circle cx="227.60" cy="170.50" r="1.85" fill="#c08a2c" stroke="#1a1a1a" stroke-width="1.0"/>
<text x="235.40" y="173.10" font-size="7.2" text-anchor="start" font-weight="normal" fill="#231f20" >RT</text>
<line x1="223.40" y1="178.60" x2="231.80" y2="178.60" stroke="#55b0dc" stroke-width="0.9" />
<circle cx="227.60" cy="178.60" r="1.85" fill="#2b84ad" stroke="#1a1a1a" stroke-width="1.0"/>
<text x="235.40" y="181.20" font-size="7.2" text-anchor="start" font-weight="normal" fill="#231f20" >RT+CART</text>
<line x1="325.00" y1="168.00" x2="325.00" y2="187.00" stroke="#231f20" stroke-width="0.9" />
<line x1="325.00" y1="191.50" x2="325.00" y2="207.00" stroke="#231f20" stroke-width="0.9" />
<line x1="336.20" y1="167.00" x2="336.20" y2="189.20" stroke="#231f20" stroke-width="0.9" />
<line x1="337.40" y1="187.00" x2="337.40" y2="207.20" stroke="#231f20" stroke-width="0.9" />
<text x="329.70" y="181.60" font-size="8" text-anchor="middle" font-weight="normal" fill="#231f20" >*</text>
<text x="330.80" y="203.00" font-size="8" text-anchor="middle" font-weight="normal" fill="#231f20" >**</text>
<text x="343.40" y="182.40" font-size="8" text-anchor="middle" font-weight="normal" fill="#231f20" >***</text>
<text x="344.60" y="201.30" font-size="8" text-anchor="middle" font-weight="normal" fill="#231f20" >***</text>
<text x="358.60" y="121.30" font-size="11" text-anchor="start" font-weight="bold" fill="#000" >D</text>
<text x="447.00" y="135.80" font-size="9" text-anchor="middle" font-weight="normal" fill="#231f20" >Survival Curve</text>
<line x1="389.20" y1="147.10" x2="389.20" y2="229.10" stroke="#231f20" stroke-width="1.2" />
<line x1="385.90" y1="228.60" x2="389.20" y2="228.60" stroke="#231f20" stroke-width="1.1" />
<text x="382.60" y="231.50" font-size="8" text-anchor="end" font-weight="normal" fill="#231f20" >0.0</text>
<line x1="385.90" y1="213.72" x2="389.20" y2="213.72" stroke="#231f20" stroke-width="1.1" />
<text x="382.60" y="216.62" font-size="8" text-anchor="end" font-weight="normal" fill="#231f20" >0.2</text>
<line x1="385.90" y1="198.84" x2="389.20" y2="198.84" stroke="#231f20" stroke-width="1.1" />
<text x="382.60" y="201.74" font-size="8" text-anchor="end" font-weight="normal" fill="#231f20" >0.4</text>
<line x1="385.90" y1="183.96" x2="389.20" y2="183.96" stroke="#231f20" stroke-width="1.1" />
<text x="382.60" y="186.86" font-size="8" text-anchor="end" font-weight="normal" fill="#231f20" >0.6</text>
<line x1="385.90" y1="169.08" x2="389.20" y2="169.08" stroke="#231f20" stroke-width="1.1" />
<text x="382.60" y="171.98" font-size="8" text-anchor="end" font-weight="normal" fill="#231f20" >0.8</text>
<line x1="385.90" y1="154.20" x2="389.20" y2="154.20" stroke="#231f20" stroke-width="1.1" />
<text x="382.60" y="157.10" font-size="8" text-anchor="end" font-weight="normal" fill="#231f20" >1.0</text>
<line x1="389.20" y1="228.60" x2="400.40" y2="228.60" stroke="#231f20" stroke-width="1.2" />
<line x1="400.40" y1="226.60" x2="400.40" y2="230.60" stroke="#231f20" stroke-width="1" />
<line x1="406.40" y1="228.60" x2="505.30" y2="228.60" stroke="#231f20" stroke-width="1.2" />
<line x1="406.86" y1="228.60" x2="406.86" y2="230.20" stroke="#231f20" stroke-width="0.9" />
<line x1="412.90" y1="228.60" x2="412.90" y2="231.20" stroke="#231f20" stroke-width="0.9" />
<line x1="418.94" y1="228.60" x2="418.94" y2="230.20" stroke="#231f20" stroke-width="0.9" />
<line x1="424.98" y1="228.60" x2="424.98" y2="230.20" stroke="#231f20" stroke-width="0.9" />
<line x1="431.02" y1="228.60" x2="431.02" y2="230.20" stroke="#231f20" stroke-width="0.9" />
<line x1="437.06" y1="228.60" x2="437.06" y2="230.20" stroke="#231f20" stroke-width="0.9" />
<line x1="443.10" y1="228.60" x2="443.10" y2="231.20" stroke="#231f20" stroke-width="0.9" />
<line x1="449.14" y1="228.60" x2="449.14" y2="230.20" stroke="#231f20" stroke-width="0.9" />
<line x1="455.18" y1="228.60" x2="455.18" y2="230.20" stroke="#231f20" stroke-width="0.9" />
<line x1="461.22" y1="228.60" x2="461.22" y2="230.20" stroke="#231f20" stroke-width="0.9" />
<line x1="467.26" y1="228.60" x2="467.26" y2="230.20" stroke="#231f20" stroke-width="0.9" />
<line x1="473.30" y1="228.60" x2="473.30" y2="231.20" stroke="#231f20" stroke-width="0.9" />
<line x1="479.34" y1="228.60" x2="479.34" y2="230.20" stroke="#231f20" stroke-width="0.9" />
<line x1="485.38" y1="228.60" x2="485.38" y2="230.20" stroke="#231f20" stroke-width="0.9" />
<line x1="491.42" y1="228.60" x2="491.42" y2="230.20" stroke="#231f20" stroke-width="0.9" />
<line x1="497.46" y1="228.60" x2="497.46" y2="230.20" stroke="#231f20" stroke-width="0.9" />
<line x1="503.50" y1="228.60" x2="503.50" y2="231.20" stroke="#231f20" stroke-width="0.9" />
<text x="413.10" y="241.40" font-size="8" text-anchor="middle" font-weight="normal" fill="#231f20" >25</text>
<text x="443.30" y="241.40" font-size="8" text-anchor="middle" font-weight="normal" fill="#231f20" >30</text>
<text x="473.50" y="241.40" font-size="8" text-anchor="middle" font-weight="normal" fill="#231f20" >35</text>
<text x="503.70" y="241.40" font-size="8" text-anchor="middle" font-weight="normal" fill="#231f20" >40</text>
<text x="389.20" y="241.40" font-size="8" text-anchor="middle" font-weight="normal" fill="#231f20" >0</text>
<text x="405.1" y="254.0" font-size="8.6" font-weight="normal" class="c" fill="#231f20" textLength="85.4" lengthAdjust="spacingAndGlyphs">Days post tumor implantation</text>
<text x="0" y="0" font-size="8.6" font-weight="normal" class="c" text-anchor="middle" fill="#231f20" textLength="47.5" lengthAdjust="spacingAndGlyphs" transform="translate(366.70,187.40) rotate(-90)">Fraction survival</text>
<polyline points="390.20,154.30 400.00,154.30" stroke="#c6c6c6" stroke-width="0.9" fill="none" />
<polyline points="407.00,154.30 424.60,154.30 424.60,161.90 437.40,161.90 437.40,167.20 454.70,167.20 454.70,197.70 472.70,197.70 472.70,203.50 479.60,203.50 479.60,210.20 486.50,210.20" stroke="#c6c6c6" stroke-width="0.9" fill="none" />
<polyline points="424.60,157.60 454.70,157.60 454.70,165.70 485.40,165.70" stroke="#aea2d6" stroke-width="0.9" fill="none" />
<polyline points="424.60,154.30 454.70,154.30" stroke="#f2b04e" stroke-width="0.9" fill="none" />
<polyline points="454.70,168.60 473.00,168.60 473.00,174.90 485.00,174.90" stroke="#f2b04e" stroke-width="0.9" fill="none" />
<polyline points="454.70,154.30 485.00,154.30" stroke="#64bce2" stroke-width="0.9" fill="none" />
<circle cx="454.70" cy="165.70" r="0.6" fill="#222" stroke="none" stroke-width="0"/>
<circle cx="479.40" cy="165.70" r="0.6" fill="#222" stroke="none" stroke-width="0"/>
<circle cx="485.00" cy="165.70" r="0.6" fill="#222" stroke="none" stroke-width="0"/>
<line x1="395.20" y1="188.90" x2="403.30" y2="188.90" stroke="#c4c4c4" stroke-width="1.1" />
<text x="406.00" y="191.50" font-size="7.2" text-anchor="start" font-weight="normal" fill="#231f20" >Control</text>
<line x1="395.20" y1="197.00" x2="403.30" y2="197.00" stroke="#3f9a45" stroke-width="1.1" />
<text x="406.00" y="199.60" font-size="7.2" text-anchor="start" font-weight="normal" fill="#231f20" >CART</text>
<line x1="395.20" y1="205.10" x2="403.30" y2="205.10" stroke="#f0a030" stroke-width="1.1" />
<text x="406.00" y="207.70" font-size="7.2" text-anchor="start" font-weight="normal" fill="#231f20" >RT</text>
<line x1="395.20" y1="213.20" x2="403.30" y2="213.20" stroke="#58b4dc" stroke-width="1.1" />
<text x="406.00" y="215.80" font-size="7.2" text-anchor="start" font-weight="normal" fill="#231f20" >RT+CART</text>
<line x1="489.10" y1="153.70" x2="489.10" y2="163.80" stroke="#231f20" stroke-width="0.9" />
<line x1="499.50" y1="157.40" x2="499.50" y2="175.60" stroke="#231f20" stroke-width="0.9" />
<text x="0" y="0" font-size="8" font-weight="normal" text-anchor="middle" fill="#231f20"  transform="translate(491.50,159.20) rotate(90)">0.0614</text>
<text x="503.70" y="168.60" font-size="8" text-anchor="middle" font-weight="normal" fill="#231f20" >*</text>
<text x="7.00" y="275.90" font-size="11" text-anchor="start" font-weight="bold" fill="#000" >E</text>
<text x="68.30" y="290.00" font-size="9" text-anchor="middle" font-weight="normal" fill="#231f20" >Irradiated Tumor</text>
<line x1="39.00" y1="298.60" x2="39.00" y2="379.90" stroke="#231f20" stroke-width="1.2" />
<line x1="35.70" y1="379.40" x2="39.00" y2="379.40" stroke="#231f20" stroke-width="1.1" />
<text x="32.40" y="382.30" font-size="8" text-anchor="end" font-weight="normal" fill="#231f20" >0</text>
<line x1="35.70" y1="353.40" x2="39.00" y2="353.40" stroke="#231f20" stroke-width="1.1" />
<text x="32.40" y="356.30" font-size="8" text-anchor="end" font-weight="normal" fill="#231f20" >20</text>
<line x1="35.70" y1="327.40" x2="39.00" y2="327.40" stroke="#231f20" stroke-width="1.1" />
<text x="32.40" y="330.30" font-size="8" text-anchor="end" font-weight="normal" fill="#231f20" >40</text>
<line x1="35.70" y1="301.40" x2="39.00" y2="301.40" stroke="#231f20" stroke-width="1.1" />
<text x="32.40" y="304.30" font-size="8" text-anchor="end" font-weight="normal" fill="#231f20" >60</text>
<line x1="39.00" y1="379.40" x2="97.20" y2="379.40" stroke="#231f20" stroke-width="1.2" />
<line x1="47.60" y1="379.40" x2="47.60" y2="381.70" stroke="#231f20" stroke-width="0.9" />
<text x="0" y="0" font-size="8" text-anchor="end" fill="#231f20" transform="translate(50.80,387.80) rotate(-45)">CTR</text>
<line x1="61.50" y1="379.40" x2="61.50" y2="381.70" stroke="#231f20" stroke-width="0.9" />
<text x="0" y="0" font-size="8" text-anchor="end" fill="#231f20" transform="translate(64.70,387.80) rotate(-45)">CART</text>
<line x1="74.40" y1="379.40" x2="74.40" y2="381.70" stroke="#231f20" stroke-width="0.9" />
<text x="0" y="0" font-size="8" text-anchor="end" fill="#231f20" transform="translate(77.60,387.80) rotate(-45)">RT</text>
<line x1="88.40" y1="379.40" x2="88.40" y2="381.70" stroke="#231f20" stroke-width="0.9" />
<text x="0" y="0" font-size="8" text-anchor="end" fill="#231f20" transform="translate(91.60,387.80) rotate(-45)">RT+CART</text>
<text x="0" y="0" font-size="8.8" font-weight="normal" class="c" text-anchor="middle" fill="#231f20" textLength="50.7" lengthAdjust="spacingAndGlyphs" transform="translate(17.90,339.00) rotate(-90)">%CD45.2<tspan font-size="5.2" dy="-2.6">+</tspan><tspan dy="2.6">/CD3</tspan><tspan font-size="5.2" dy="-2.6">+</tspan></text>
<circle cx="45.00" cy="368.40" r="2.0" fill="#ffffff" stroke="#262626" stroke-width="1.05"/>
<circle cx="47.70" cy="359.80" r="2.0" fill="#ffffff" stroke="#262626" stroke-width="1.05"/>
<circle cx="50.70" cy="368.40" r="2.0" fill="#ffffff" stroke="#262626" stroke-width="1.05"/>
<circle cx="61.60" cy="326.40" r="2.0" fill="#4f9c55" stroke="#1c4a20" stroke-width="1.05"/>
<circle cx="58.70" cy="352.40" r="2.0" fill="#4f9c55" stroke="#1c4a20" stroke-width="1.05"/>
<circle cx="63.90" cy="349.60" r="2.0" fill="#4f9c55" stroke="#1c4a20" stroke-width="1.05"/>
<circle cx="72.10" cy="335.40" r="2.0" fill="#e4ac48" stroke="#4a3812" stroke-width="1.05"/>
<circle cx="77.30" cy="339.20" r="2.0" fill="#e4ac48" stroke="#4a3812" stroke-width="1.05"/>
<circle cx="72.10" cy="342.30" r="2.0" fill="#e4ac48" stroke="#4a3812" stroke-width="1.05"/>
<circle cx="87.90" cy="331.20" r="2.0" fill="#4798b6" stroke="#16404c" stroke-width="1.05"/>
<circle cx="87.90" cy="338.80" r="2.0" fill="#4798b6" stroke="#16404c" stroke-width="1.05"/>
<circle cx="87.90" cy="352.00" r="2.0" fill="#4798b6" stroke="#16404c" stroke-width="1.05"/>
<line x1="43.30" y1="365.75" x2="51.90" y2="365.75" stroke="#2a2a38" stroke-width="1.0" />
<line x1="47.60" y1="362.25" x2="47.60" y2="369.25" stroke="#2a2a38" stroke-width="0.9" />
<line x1="45.80" y1="362.25" x2="49.40" y2="362.25" stroke="#2a2a38" stroke-width="0.9" />
<line x1="45.80" y1="369.25" x2="49.40" y2="369.25" stroke="#2a2a38" stroke-width="0.9" />
<line x1="57.20" y1="343.65" x2="65.80" y2="343.65" stroke="#2a2a38" stroke-width="1.0" />
<line x1="61.50" y1="336.45" x2="61.50" y2="350.85" stroke="#2a2a38" stroke-width="0.9" />
<line x1="59.70" y1="336.45" x2="63.30" y2="336.45" stroke="#2a2a38" stroke-width="0.9" />
<line x1="59.70" y1="350.85" x2="63.30" y2="350.85" stroke="#2a2a38" stroke-width="0.9" />
<line x1="70.10" y1="339.36" x2="78.70" y2="339.36" stroke="#2a2a38" stroke-width="1.0" />
<line x1="74.40" y1="336.86" x2="74.40" y2="341.86" stroke="#2a2a38" stroke-width="0.9" />
<line x1="72.60" y1="336.86" x2="76.20" y2="336.86" stroke="#2a2a38" stroke-width="0.9" />
<line x1="72.60" y1="341.86" x2="76.20" y2="341.86" stroke="#2a2a38" stroke-width="0.9" />
<line x1="84.10" y1="341.05" x2="92.70" y2="341.05" stroke="#2a2a38" stroke-width="1.0" />
<line x1="88.40" y1="334.55" x2="88.40" y2="347.55" stroke="#2a2a38" stroke-width="0.9" />
<line x1="86.60" y1="334.55" x2="90.20" y2="334.55" stroke="#2a2a38" stroke-width="0.9" />
<line x1="86.60" y1="347.55" x2="90.20" y2="347.55" stroke="#2a2a38" stroke-width="0.9" />
<line x1="48.30" y1="307.20" x2="73.80" y2="307.20" stroke="#231f20" stroke-width="1.0" />
<text x="61.05" y="307.30" font-size="8.2" text-anchor="middle" font-weight="normal" fill="#231f20" >**</text>
<line x1="48.30" y1="319.70" x2="87.40" y2="319.70" stroke="#231f20" stroke-width="1.0" />
<text x="67.85" y="319.80" font-size="8.2" text-anchor="middle" font-weight="normal" fill="#231f20" >*</text>
<text x="165.70" y="290.00" font-size="9" text-anchor="middle" font-weight="normal" fill="#231f20" >Non-Irradiated Tumor</text>
<line x1="135.60" y1="298.60" x2="135.60" y2="379.90" stroke="#231f20" stroke-width="1.2" />
<line x1="132.30" y1="379.40" x2="135.60" y2="379.40" stroke="#231f20" stroke-width="1.1" />
<text x="129.00" y="382.30" font-size="8" text-anchor="end" font-weight="normal" fill="#231f20" >0</text>
<line x1="132.30" y1="353.40" x2="135.60" y2="353.40" stroke="#231f20" stroke-width="1.1" />
<text x="129.00" y="356.30" font-size="8" text-anchor="end" font-weight="normal" fill="#231f20" >20</text>
<line x1="132.30" y1="327.40" x2="135.60" y2="327.40" stroke="#231f20" stroke-width="1.1" />
<text x="129.00" y="330.30" font-size="8" text-anchor="end" font-weight="normal" fill="#231f20" >40</text>
<line x1="132.30" y1="301.40" x2="135.60" y2="301.40" stroke="#231f20" stroke-width="1.1" />
<text x="129.00" y="304.30" font-size="8" text-anchor="end" font-weight="normal" fill="#231f20" >60</text>
<line x1="135.60" y1="379.40" x2="193.60" y2="379.40" stroke="#231f20" stroke-width="1.2" />
<line x1="145.10" y1="379.40" x2="145.10" y2="381.70" stroke="#231f20" stroke-width="0.9" />
<text x="0" y="0" font-size="8" text-anchor="end" fill="#231f20" transform="translate(148.30,387.80) rotate(-45)">CTR</text>
<line x1="158.50" y1="379.40" x2="158.50" y2="381.70" stroke="#231f20" stroke-width="0.9" />
<text x="0" y="0" font-size="8" text-anchor="end" fill="#231f20" transform="translate(161.70,387.80) rotate(-45)">CART</text>
<line x1="172.40" y1="379.40" x2="172.40" y2="381.70" stroke="#231f20" stroke-width="0.9" />
<text x="0" y="0" font-size="8" text-anchor="end" fill="#231f20" transform="translate(175.60,387.80) rotate(-45)">RT</text>
<line x1="185.60" y1="379.40" x2="185.60" y2="381.70" stroke="#231f20" stroke-width="0.9" />
<text x="0" y="0" font-size="8" text-anchor="end" fill="#231f20" transform="translate(188.80,387.80) rotate(-45)">RT+CART</text>
<text x="0" y="0" font-size="8.8" font-weight="normal" class="c" text-anchor="middle" fill="#231f20" textLength="50.7" lengthAdjust="spacingAndGlyphs" transform="translate(114.50,339.00) rotate(-90)">%CD45.2<tspan font-size="5.2" dy="-2.6">+</tspan><tspan dy="2.6">/CD3</tspan><tspan font-size="5.2" dy="-2.6">+</tspan></text>
<circle cx="142.30" cy="368.20" r="2.0" fill="#ffffff" stroke="#262626" stroke-width="1.05"/>
<circle cx="145.10" cy="360.00" r="2.0" fill="#ffffff" stroke="#262626" stroke-width="1.05"/>
<circle cx="148.00" cy="368.20" r="2.0" fill="#ffffff" stroke="#262626" stroke-width="1.05"/>
<circle cx="158.60" cy="326.40" r="2.0" fill="#4f9c55" stroke="#1c4a20" stroke-width="1.05"/>
<circle cx="155.90" cy="352.20" r="2.0" fill="#4f9c55" stroke="#1c4a20" stroke-width="1.05"/>
<circle cx="161.80" cy="349.60" r="2.0" fill="#4f9c55" stroke="#1c4a20" stroke-width="1.05"/>
<circle cx="172.40" cy="332.20" r="2.0" fill="#e4ac48" stroke="#4a3812" stroke-width="1.05"/>
<circle cx="172.40" cy="345.60" r="2.0" fill="#e4ac48" stroke="#4a3812" stroke-width="1.05"/>
<circle cx="172.40" cy="353.60" r="2.0" fill="#e4ac48" stroke="#4a3812" stroke-width="1.05"/>
<circle cx="183.30" cy="332.50" r="2.0" fill="#4798b6" stroke="#16404c" stroke-width="1.05"/>
<circle cx="188.20" cy="335.90" r="2.0" fill="#4798b6" stroke="#16404c" stroke-width="1.05"/>
<circle cx="185.60" cy="346.20" r="2.0" fill="#4798b6" stroke="#16404c" stroke-width="1.05"/>
<line x1="140.80" y1="365.75" x2="149.40" y2="365.75" stroke="#2a2a38" stroke-width="1.0" />
<line x1="145.10" y1="362.25" x2="145.10" y2="369.25" stroke="#2a2a38" stroke-width="0.9" />
<line x1="143.30" y1="362.25" x2="146.90" y2="362.25" stroke="#2a2a38" stroke-width="0.9" />
<line x1="143.30" y1="369.25" x2="146.90" y2="369.25" stroke="#2a2a38" stroke-width="0.9" />
<line x1="154.20" y1="343.65" x2="162.80" y2="343.65" stroke="#2a2a38" stroke-width="1.0" />
<line x1="158.50" y1="336.45" x2="158.50" y2="350.85" stroke="#2a2a38" stroke-width="0.9" />
<line x1="156.70" y1="336.45" x2="160.30" y2="336.45" stroke="#2a2a38" stroke-width="0.9" />
<line x1="156.70" y1="350.85" x2="160.30" y2="350.85" stroke="#2a2a38" stroke-width="0.9" />
<line x1="168.10" y1="344.95" x2="176.70" y2="344.95" stroke="#2a2a38" stroke-width="1.0" />
<line x1="172.40" y1="339.45" x2="172.40" y2="350.45" stroke="#2a2a38" stroke-width="0.9" />
<line x1="170.60" y1="339.45" x2="174.20" y2="339.45" stroke="#2a2a38" stroke-width="0.9" />
<line x1="170.60" y1="350.45" x2="174.20" y2="350.45" stroke="#2a2a38" stroke-width="0.9" />
<line x1="181.30" y1="338.45" x2="189.90" y2="338.45" stroke="#2a2a38" stroke-width="1.0" />
<line x1="185.60" y1="334.65" x2="185.60" y2="342.25" stroke="#2a2a38" stroke-width="0.9" />
<line x1="183.80" y1="334.65" x2="187.40" y2="334.65" stroke="#2a2a38" stroke-width="0.9" />
<line x1="183.80" y1="342.25" x2="187.40" y2="342.25" stroke="#2a2a38" stroke-width="0.9" />
<line x1="146.50" y1="308.80" x2="172.90" y2="308.80" stroke="#231f20" stroke-width="1.0" />
<text x="159.70" y="308.90" font-size="8.2" text-anchor="middle" font-weight="normal" fill="#231f20" >*</text>
<line x1="145.40" y1="320.30" x2="186.40" y2="320.30" stroke="#231f20" stroke-width="1.0" />
<text x="165.90" y="320.40" font-size="8.2" text-anchor="middle" font-weight="normal" fill="#231f20" >**</text>
<text x="217.40" y="275.90" font-size="11" text-anchor="start" font-weight="bold" fill="#000" >F</text>
<text x="278.80" y="290.00" font-size="9" text-anchor="middle" font-weight="normal" fill="#231f20" >Irradiated Tumor</text>
<line x1="251.60" y1="298.80" x2="251.60" y2="380.00" stroke="#231f20" stroke-width="1.2" />
<line x1="248.30" y1="379.50" x2="251.60" y2="379.50" stroke="#231f20" stroke-width="1.1" />
<text x="245.00" y="382.40" font-size="8" text-anchor="end" font-weight="normal" fill="#231f20" >0.0</text>
<line x1="248.30" y1="363.70" x2="251.60" y2="363.70" stroke="#231f20" stroke-width="1.1" />
<text x="245.00" y="366.60" font-size="8" text-anchor="end" font-weight="normal" fill="#231f20" >0.5</text>
<line x1="248.30" y1="347.90" x2="251.60" y2="347.90" stroke="#231f20" stroke-width="1.1" />
<text x="245.00" y="350.80" font-size="8" text-anchor="end" font-weight="normal" fill="#231f20" >1.0</text>
<line x1="248.30" y1="332.10" x2="251.60" y2="332.10" stroke="#231f20" stroke-width="1.1" />
<text x="245.00" y="335.00" font-size="8" text-anchor="end" font-weight="normal" fill="#231f20" >1.5</text>
<line x1="248.30" y1="316.30" x2="251.60" y2="316.30" stroke="#231f20" stroke-width="1.1" />
<text x="245.00" y="319.20" font-size="8" text-anchor="end" font-weight="normal" fill="#231f20" >2.0</text>
<line x1="248.30" y1="300.50" x2="251.60" y2="300.50" stroke="#231f20" stroke-width="1.1" />
<text x="245.00" y="303.40" font-size="8" text-anchor="end" font-weight="normal" fill="#231f20" >2.5</text>
<line x1="251.60" y1="379.50" x2="306.20" y2="379.50" stroke="#231f20" stroke-width="1.2" />
<line x1="257.70" y1="379.50" x2="257.70" y2="381.80" stroke="#231f20" stroke-width="0.9" />
<text x="0" y="0" font-size="8" text-anchor="end" fill="#231f20" transform="translate(260.90,387.90) rotate(-45)">CTR</text>
<line x1="271.90" y1="379.50" x2="271.90" y2="381.80" stroke="#231f20" stroke-width="0.9" />
<text x="0" y="0" font-size="8" text-anchor="end" fill="#231f20" transform="translate(275.10,387.90) rotate(-45)">CART</text>
<line x1="284.90" y1="379.50" x2="284.90" y2="381.80" stroke="#231f20" stroke-width="0.9" />
<text x="0" y="0" font-size="8" text-anchor="end" fill="#231f20" transform="translate(288.10,387.90) rotate(-45)">RT</text>
<line x1="299.40" y1="379.50" x2="299.40" y2="381.80" stroke="#231f20" stroke-width="0.9" />
<text x="0" y="0" font-size="8" text-anchor="end" fill="#231f20" transform="translate(302.60,387.90) rotate(-45)">RT+CART</text>
<text x="0" y="0" font-size="8.8" font-weight="normal" class="c" text-anchor="middle" fill="#231f20" textLength="77" lengthAdjust="spacingAndGlyphs" transform="translate(228.30,338.60) rotate(-90)">%CD45.2<tspan font-size="5.2" dy="-2.6">−</tspan><tspan dy="2.6">/CD3</tspan><tspan font-size="5.2" dy="-2.6">+</tspan><tspan dy="2.6">/CD45.1</tspan><tspan font-size="5.2" dy="-2.6">+</tspan></text>
<circle cx="254.50" cy="378.60" r="2.0" fill="#ffffff" stroke="#262626" stroke-width="1.05"/>
<circle cx="257.50" cy="376.90" r="2.0" fill="#ffffff" stroke="#262626" stroke-width="1.05"/>
<circle cx="260.50" cy="377.20" r="2.0" fill="#ffffff" stroke="#262626" stroke-width="1.05"/>
<circle cx="271.90" cy="335.00" r="2.0" fill="#4f9c55" stroke="#1c4a20" stroke-width="1.05"/>
<circle cx="271.90" cy="341.60" r="2.0" fill="#4f9c55" stroke="#1c4a20" stroke-width="1.05"/>
<circle cx="269.10" cy="349.00" r="2.0" fill="#4f9c55" stroke="#1c4a20" stroke-width="1.05"/>
<circle cx="274.70" cy="351.50" r="2.0" fill="#4f9c55" stroke="#1c4a20" stroke-width="1.05"/>
<circle cx="269.10" cy="353.40" r="2.0" fill="#4f9c55" stroke="#1c4a20" stroke-width="1.05"/>
<circle cx="271.90" cy="365.70" r="2.0" fill="#4f9c55" stroke="#1c4a20" stroke-width="1.05"/>
<circle cx="271.90" cy="370.50" r="2.0" fill="#4f9c55" stroke="#1c4a20" stroke-width="1.05"/>
<circle cx="281.90" cy="379.20" r="2.0" fill="#e4ac48" stroke="#4a3812" stroke-width="1.05"/>
<circle cx="284.90" cy="379.20" r="2.0" fill="#e4ac48" stroke="#4a3812" stroke-width="1.05"/>
<circle cx="288.10" cy="379.20" r="2.0" fill="#e4ac48" stroke="#4a3812" stroke-width="1.05"/>
<circle cx="296.10" cy="315.40" r="2.0" fill="#4798b6" stroke="#16404c" stroke-width="1.05"/>
<circle cx="302.80" cy="319.20" r="2.0" fill="#4798b6" stroke="#16404c" stroke-width="1.05"/>
<circle cx="296.10" cy="330.20" r="2.0" fill="#4798b6" stroke="#16404c" stroke-width="1.05"/>
<circle cx="302.80" cy="332.50" r="2.0" fill="#4798b6" stroke="#16404c" stroke-width="1.05"/>
<circle cx="296.10" cy="341.60" r="2.0" fill="#4798b6" stroke="#16404c" stroke-width="1.05"/>
<circle cx="302.80" cy="341.60" r="2.0" fill="#4798b6" stroke="#16404c" stroke-width="1.05"/>
<circle cx="299.70" cy="352.10" r="2.0" fill="#4798b6" stroke="#16404c" stroke-width="1.05"/>
<line x1="267.60" y1="350.43" x2="276.20" y2="350.43" stroke="#2a2a38" stroke-width="1.0" />
<line x1="271.90" y1="346.03" x2="271.90" y2="354.83" stroke="#2a2a38" stroke-width="0.9" />
<line x1="270.10" y1="346.03" x2="273.70" y2="346.03" stroke="#2a2a38" stroke-width="0.9" />
<line x1="270.10" y1="354.83" x2="273.70" y2="354.83" stroke="#2a2a38" stroke-width="0.9" />
<line x1="295.10" y1="328.94" x2="303.70" y2="328.94" stroke="#2a2a38" stroke-width="1.0" />
<line x1="299.40" y1="322.74" x2="299.40" y2="335.14" stroke="#2a2a38" stroke-width="0.9" />
<line x1="297.60" y1="322.74" x2="301.20" y2="322.74" stroke="#2a2a38" stroke-width="0.9" />
<line x1="297.60" y1="335.14" x2="301.20" y2="335.14" stroke="#2a2a38" stroke-width="0.9" />
<line x1="273.30" y1="308.60" x2="299.80" y2="308.60" stroke="#231f20" stroke-width="1.0" />
<text x="286.55" y="308.70" font-size="8.2" text-anchor="middle" font-weight="normal" fill="#231f20" >*</text>
<text x="375.70" y="290.00" font-size="9" text-anchor="middle" font-weight="normal" fill="#231f20" >Non-Irradiated Tumor</text>
<line x1="347.80" y1="298.80" x2="347.80" y2="380.00" stroke="#231f20" stroke-width="1.2" />
<line x1="344.50" y1="379.50" x2="347.80" y2="379.50" stroke="#231f20" stroke-width="1.1" />
<text x="341.20" y="382.40" font-size="8" text-anchor="end" font-weight="normal" fill="#231f20" >0.0</text>
<line x1="344.50" y1="363.70" x2="347.80" y2="363.70" stroke="#231f20" stroke-width="1.1" />
<text x="341.20" y="366.60" font-size="8" text-anchor="end" font-weight="normal" fill="#231f20" >0.5</text>
<line x1="344.50" y1="347.90" x2="347.80" y2="347.90" stroke="#231f20" stroke-width="1.1" />
<text x="341.20" y="350.80" font-size="8" text-anchor="end" font-weight="normal" fill="#231f20" >1.0</text>
<line x1="344.50" y1="332.10" x2="347.80" y2="332.10" stroke="#231f20" stroke-width="1.1" />
<text x="341.20" y="335.00" font-size="8" text-anchor="end" font-weight="normal" fill="#231f20" >1.5</text>
<line x1="344.50" y1="316.30" x2="347.80" y2="316.30" stroke="#231f20" stroke-width="1.1" />
<text x="341.20" y="319.20" font-size="8" text-anchor="end" font-weight="normal" fill="#231f20" >2.0</text>
<line x1="344.50" y1="300.50" x2="347.80" y2="300.50" stroke="#231f20" stroke-width="1.1" />
<text x="341.20" y="303.40" font-size="8" text-anchor="end" font-weight="normal" fill="#231f20" >2.5</text>
<line x1="347.80" y1="379.50" x2="402.50" y2="379.50" stroke="#231f20" stroke-width="1.2" />
<line x1="353.60" y1="379.50" x2="353.60" y2="381.80" stroke="#231f20" stroke-width="0.9" />
<text x="0" y="0" font-size="8" text-anchor="end" fill="#231f20" transform="translate(356.80,387.90) rotate(-45)">CTR</text>
<line x1="368.60" y1="379.50" x2="368.60" y2="381.80" stroke="#231f20" stroke-width="0.9" />
<text x="0" y="0" font-size="8" text-anchor="end" fill="#231f20" transform="translate(371.80,387.90) rotate(-45)">CART</text>
<line x1="381.80" y1="379.50" x2="381.80" y2="381.80" stroke="#231f20" stroke-width="0.9" />
<text x="0" y="0" font-size="8" text-anchor="end" fill="#231f20" transform="translate(385.00,387.90) rotate(-45)">RT</text>
<line x1="395.20" y1="379.50" x2="395.20" y2="381.80" stroke="#231f20" stroke-width="0.9" />
<text x="0" y="0" font-size="8" text-anchor="end" fill="#231f20" transform="translate(398.40,387.90) rotate(-45)">RT+CART</text>
<text x="0" y="0" font-size="8.8" font-weight="normal" class="c" text-anchor="middle" fill="#231f20" textLength="77" lengthAdjust="spacingAndGlyphs" transform="translate(324.60,338.60) rotate(-90)">%CD45.2<tspan font-size="5.2" dy="-2.6">−</tspan><tspan dy="2.6">/CD3</tspan><tspan font-size="5.2" dy="-2.6">+</tspan><tspan dy="2.6">/CD45.1</tspan><tspan font-size="5.2" dy="-2.6">+</tspan></text>
<circle cx="352.00" cy="378.60" r="2.0" fill="#ffffff" stroke="#262626" stroke-width="1.05"/>
<circle cx="354.70" cy="376.60" r="2.0" fill="#ffffff" stroke="#262626" stroke-width="1.05"/>
<circle cx="357.50" cy="377.50" r="2.0" fill="#ffffff" stroke="#262626" stroke-width="1.05"/>
<circle cx="368.60" cy="335.60" r="2.0" fill="#4f9c55" stroke="#1c4a20" stroke-width="1.05"/>
<circle cx="368.60" cy="341.90" r="2.0" fill="#4f9c55" stroke="#1c4a20" stroke-width="1.05"/>
<circle cx="365.70" cy="348.30" r="2.0" fill="#4f9c55" stroke="#1c4a20" stroke-width="1.05"/>
<circle cx="369.10" cy="349.30" r="2.0" fill="#4f9c55" stroke="#1c4a20" stroke-width="1.05"/>
<circle cx="371.80" cy="351.70" r="2.0" fill="#4f9c55" stroke="#1c4a20" stroke-width="1.05"/>
<circle cx="366.10" cy="352.70" r="2.0" fill="#4f9c55" stroke="#1c4a20" stroke-width="1.05"/>
<circle cx="368.60" cy="366.00" r="2.0" fill="#4f9c55" stroke="#1c4a20" stroke-width="1.05"/>
<circle cx="368.60" cy="370.40" r="2.0" fill="#4f9c55" stroke="#1c4a20" stroke-width="1.05"/>
<circle cx="378.80" cy="379.30" r="2.0" fill="#e4ac48" stroke="#4a3812" stroke-width="1.05"/>
<circle cx="381.80" cy="379.30" r="2.0" fill="#e4ac48" stroke="#4a3812" stroke-width="1.05"/>
<circle cx="385.20" cy="379.30" r="2.0" fill="#e4ac48" stroke="#4a3812" stroke-width="1.05"/>
<circle cx="392.70" cy="331.60" r="2.0" fill="#4798b6" stroke="#16404c" stroke-width="1.05"/>
<circle cx="396.30" cy="330.60" r="2.0" fill="#4798b6" stroke="#16404c" stroke-width="1.05"/>
<circle cx="398.90" cy="335.20" r="2.0" fill="#4798b6" stroke="#16404c" stroke-width="1.05"/>
<circle cx="392.70" cy="333.80" r="2.0" fill="#4798b6" stroke="#16404c" stroke-width="1.05"/>
<circle cx="398.30" cy="341.90" r="2.0" fill="#4798b6" stroke="#16404c" stroke-width="1.05"/>
<circle cx="392.70" cy="343.70" r="2.0" fill="#4798b6" stroke="#16404c" stroke-width="1.05"/>
<line x1="364.30" y1="351.06" x2="372.90" y2="351.06" stroke="#2a2a38" stroke-width="1.0" />
<line x1="368.60" y1="346.56" x2="368.60" y2="355.56" stroke="#2a2a38" stroke-width="0.9" />
<line x1="366.80" y1="346.56" x2="370.40" y2="346.56" stroke="#2a2a38" stroke-width="0.9" />
<line x1="366.80" y1="355.56" x2="370.40" y2="355.56" stroke="#2a2a38" stroke-width="0.9" />
<line x1="390.90" y1="336.84" x2="399.50" y2="336.84" stroke="#2a2a38" stroke-width="1.0" />
<line x1="395.20" y1="334.34" x2="395.20" y2="339.34" stroke="#2a2a38" stroke-width="0.9" />
<line x1="393.40" y1="334.34" x2="397.00" y2="334.34" stroke="#2a2a38" stroke-width="0.9" />
<line x1="393.40" y1="339.34" x2="397.00" y2="339.34" stroke="#2a2a38" stroke-width="0.9" />
<line x1="370.20" y1="316.10" x2="395.70" y2="316.10" stroke="#231f20" stroke-width="1.0" />
<text x="382.95" y="316.20" font-size="8.2" text-anchor="middle" font-weight="normal" fill="#231f20" >*</text>
<text x="427.20" y="275.90" font-size="11" text-anchor="start" font-weight="bold" fill="#000" >G</text>
<text x="483.80" y="290.00" font-size="9" text-anchor="middle" font-weight="normal" fill="#231f20" >Spleen</text>
<line x1="454.60" y1="298.80" x2="454.60" y2="379.70" stroke="#231f20" stroke-width="1.2" />
<line x1="451.30" y1="379.20" x2="454.60" y2="379.20" stroke="#231f20" stroke-width="1.1" />
<text x="448.00" y="382.10" font-size="8" text-anchor="end" font-weight="normal" fill="#231f20" >0</text>
<line x1="451.30" y1="359.40" x2="454.60" y2="359.40" stroke="#231f20" stroke-width="1.1" />
<text x="448.00" y="362.30" font-size="8" text-anchor="end" font-weight="normal" fill="#231f20" >1</text>
<line x1="451.30" y1="339.60" x2="454.60" y2="339.60" stroke="#231f20" stroke-width="1.1" />
<text x="448.00" y="342.50" font-size="8" text-anchor="end" font-weight="normal" fill="#231f20" >2</text>
<line x1="451.30" y1="319.80" x2="454.60" y2="319.80" stroke="#231f20" stroke-width="1.1" />
<text x="448.00" y="322.70" font-size="8" text-anchor="end" font-weight="normal" fill="#231f20" >3</text>
<line x1="451.30" y1="300.00" x2="454.60" y2="300.00" stroke="#231f20" stroke-width="1.1" />
<text x="448.00" y="302.90" font-size="8" text-anchor="end" font-weight="normal" fill="#231f20" >4</text>
<line x1="454.60" y1="379.20" x2="513.00" y2="379.20" stroke="#231f20" stroke-width="1.2" />
<line x1="463.80" y1="379.20" x2="463.80" y2="381.50" stroke="#231f20" stroke-width="0.9" />
<text x="0" y="0" font-size="8" text-anchor="end" fill="#231f20" transform="translate(467.00,387.60) rotate(-45)">CTR</text>
<line x1="477.00" y1="379.20" x2="477.00" y2="381.50" stroke="#231f20" stroke-width="0.9" />
<text x="0" y="0" font-size="8" text-anchor="end" fill="#231f20" transform="translate(480.20,387.60) rotate(-45)">CART</text>
<line x1="490.20" y1="379.20" x2="490.20" y2="381.50" stroke="#231f20" stroke-width="0.9" />
<text x="0" y="0" font-size="8" text-anchor="end" fill="#231f20" transform="translate(493.40,387.60) rotate(-45)">RT</text>
<line x1="503.60" y1="379.20" x2="503.60" y2="381.50" stroke="#231f20" stroke-width="0.9" />
<text x="0" y="0" font-size="8" text-anchor="end" fill="#231f20" transform="translate(506.80,387.60) rotate(-45)">RT+CART</text>
<text x="0" y="0" font-size="8.8" font-weight="normal" class="c" text-anchor="middle" fill="#231f20" textLength="78" lengthAdjust="spacingAndGlyphs" transform="translate(438.30,339.20) rotate(-90)">%CD45.2−/CD3<tspan font-size="5.2" dy="-2.6">+</tspan><tspan dy="2.6">/CD45.1</tspan><tspan font-size="5.2" dy="-2.6">+</tspan></text>
<circle cx="460.80" cy="374.00" r="2.0" fill="#ffffff" stroke="#262626" stroke-width="1.05"/>
<circle cx="463.80" cy="376.30" r="2.0" fill="#ffffff" stroke="#262626" stroke-width="1.05"/>
<circle cx="466.60" cy="377.80" r="2.0" fill="#ffffff" stroke="#262626" stroke-width="1.05"/>
<circle cx="460.80" cy="378.60" r="2.0" fill="#ffffff" stroke="#262626" stroke-width="1.05"/>
<circle cx="464.20" cy="379.10" r="2.0" fill="#ffffff" stroke="#262626" stroke-width="1.05"/>
<circle cx="477.50" cy="341.30" r="2.0" fill="#4f9c55" stroke="#1c4a20" stroke-width="1.05"/>
<circle cx="476.00" cy="343.10" r="2.0" fill="#4f9c55" stroke="#1c4a20" stroke-width="1.05"/>
<circle cx="476.00" cy="350.20" r="2.0" fill="#4f9c55" stroke="#1c4a20" stroke-width="1.05"/>
<circle cx="474.50" cy="354.50" r="2.0" fill="#4f9c55" stroke="#1c4a20" stroke-width="1.05"/>
<circle cx="479.80" cy="356.40" r="2.0" fill="#4f9c55" stroke="#1c4a20" stroke-width="1.05"/>
<circle cx="474.50" cy="358.30" r="2.0" fill="#4f9c55" stroke="#1c4a20" stroke-width="1.05"/>
<circle cx="477.50" cy="358.90" r="2.0" fill="#4f9c55" stroke="#1c4a20" stroke-width="1.05"/>
<circle cx="480.20" cy="359.60" r="2.0" fill="#4f9c55" stroke="#1c4a20" stroke-width="1.05"/>
<circle cx="474.50" cy="361.10" r="2.0" fill="#4f9c55" stroke="#1c4a20" stroke-width="1.05"/>
<circle cx="477.90" cy="361.50" r="2.0" fill="#4f9c55" stroke="#1c4a20" stroke-width="1.05"/>
<circle cx="474.50" cy="363.40" r="2.0" fill="#4f9c55" stroke="#1c4a20" stroke-width="1.05"/>
<circle cx="480.20" cy="361.10" r="2.0" fill="#4f9c55" stroke="#1c4a20" stroke-width="1.05"/>
<circle cx="488.30" cy="377.20" r="2.0" fill="#e4ac48" stroke="#4a3812" stroke-width="1.05"/>
<circle cx="490.80" cy="376.30" r="2.0" fill="#e4ac48" stroke="#4a3812" stroke-width="1.05"/>
<circle cx="493.40" cy="376.70" r="2.0" fill="#e4ac48" stroke="#4a3812" stroke-width="1.05"/>
<circle cx="489.60" cy="378.60" r="2.0" fill="#e4ac48" stroke="#4a3812" stroke-width="1.05"/>
<circle cx="503.80" cy="327.40" r="2.0" fill="#4798b6" stroke="#16404c" stroke-width="1.05"/>
<circle cx="503.80" cy="334.60" r="2.0" fill="#4798b6" stroke="#16404c" stroke-width="1.05"/>
<circle cx="503.80" cy="339.40" r="2.0" fill="#4798b6" stroke="#16404c" stroke-width="1.05"/>
<circle cx="501.00" cy="346.90" r="2.0" fill="#4798b6" stroke="#16404c" stroke-width="1.05"/>
<circle cx="506.30" cy="350.20" r="2.0" fill="#4798b6" stroke="#16404c" stroke-width="1.05"/>
<circle cx="504.40" cy="346.90" r="2.0" fill="#4798b6" stroke="#16404c" stroke-width="1.05"/>
<circle cx="504.80" cy="360.80" r="2.0" fill="#4798b6" stroke="#16404c" stroke-width="1.05"/>
<circle cx="502.50" cy="362.70" r="2.0" fill="#4798b6" stroke="#16404c" stroke-width="1.05"/>
<line x1="472.70" y1="356.43" x2="481.30" y2="356.43" stroke="#2a2a38" stroke-width="1.0" />
<line x1="477.00" y1="353.43" x2="477.00" y2="359.43" stroke="#2a2a38" stroke-width="0.9" />
<line x1="475.20" y1="353.43" x2="478.80" y2="353.43" stroke="#2a2a38" stroke-width="0.9" />
<line x1="475.20" y1="359.43" x2="478.80" y2="359.43" stroke="#2a2a38" stroke-width="0.9" />
<line x1="499.30" y1="346.13" x2="507.90" y2="346.13" stroke="#2a2a38" stroke-width="1.0" />
<line x1="503.60" y1="337.63" x2="503.60" y2="354.63" stroke="#2a2a38" stroke-width="0.9" />
<line x1="501.80" y1="337.63" x2="505.40" y2="337.63" stroke="#2a2a38" stroke-width="0.9" />
<line x1="501.80" y1="354.63" x2="505.40" y2="354.63" stroke="#2a2a38" stroke-width="0.9" />
<line x1="478.60" y1="309.50" x2="502.50" y2="309.50" stroke="#231f20" stroke-width="1.0" />
<text x="490.55" y="306.90" font-size="8" text-anchor="middle" font-weight="normal" fill="#231f20" >ns</text>
</svg></div></body></html>
